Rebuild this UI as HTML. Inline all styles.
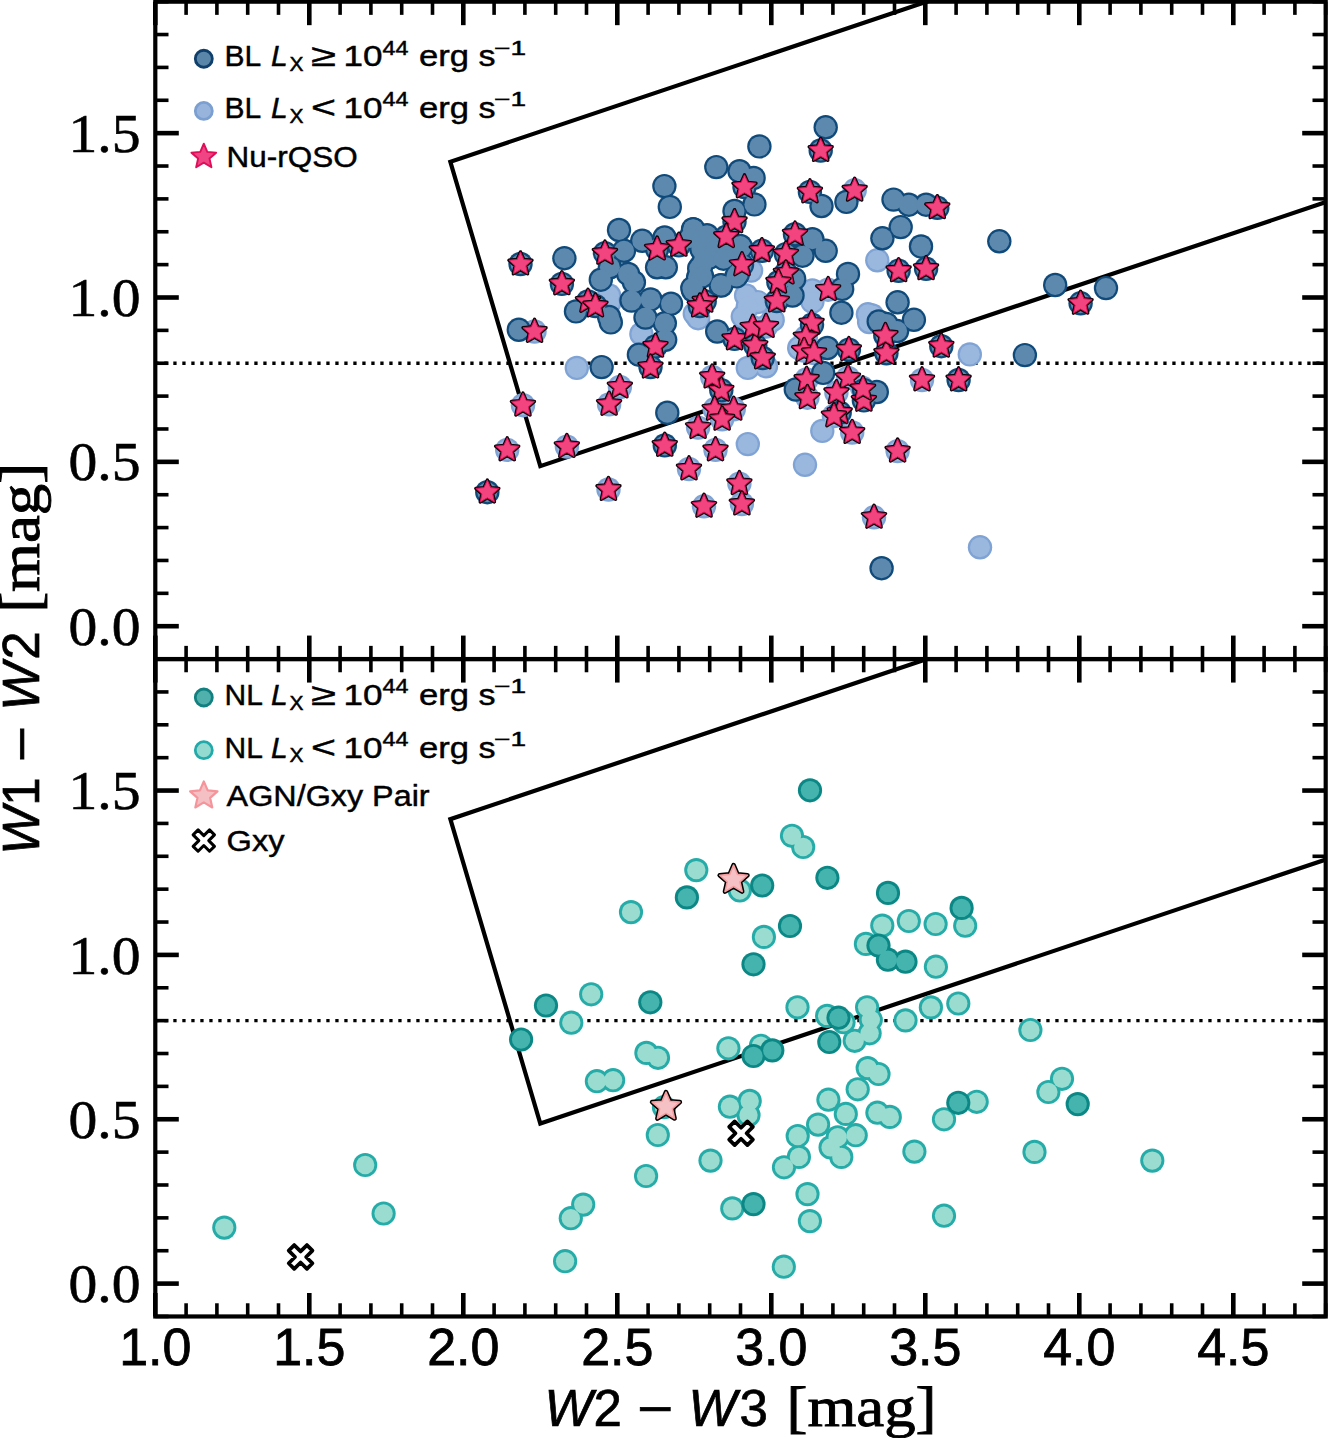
<!DOCTYPE html><html><head><meta charset="utf-8"><style>html,body{margin:0;padding:0;background:#fff;width:1328px;height:1438px;overflow:hidden}svg{display:block}</style></head><body>
<svg width="1328" height="1438" viewBox="0 0 1328 1438">
<rect width="1328" height="1438" fill="#fff"/>
<defs><clipPath id="ct"><rect x="155.3" y="1.6700000000000728" width="1170.3999999999999" height="657.4"/></clipPath><clipPath id="cb"><rect x="155.3" y="659.07" width="1170.3999999999999" height="657.3999999999997"/></clipPath></defs>
<g clip-path="url(#ct)"><path d="M1024.54,-31.20 L450.36,161.75 L540.30,466.12 L1356.50,191.82" fill="none" stroke="#000" stroke-width="4.2" stroke-linejoin="miter"/>
<line x1="155.3" y1="363.24" x2="1325.6999999999998" y2="363.24" stroke="#000" stroke-width="3.3" stroke-dasharray="3.3 5.7"/></g>
<g clip-path="url(#cb)"><path d="M1024.54,626.20 L450.36,819.15 L540.30,1123.52 L1356.50,849.22" fill="none" stroke="#000" stroke-width="4.2" stroke-linejoin="miter"/>
<line x1="155.3" y1="1020.64" x2="1325.6999999999998" y2="1020.64" stroke="#000" stroke-width="3.3" stroke-dasharray="3.3 5.7"/></g>
<g clip-path="url(#ct)"><g fill="#7fa3d4"><circle cx="609.1" cy="295.5" r="12.20"/><circle cx="746.1" cy="295.5" r="12.20"/><circle cx="757.7" cy="302.1" r="12.20"/><circle cx="812.4" cy="290.5" r="12.20"/><circle cx="877.3" cy="260.3" r="12.20"/><circle cx="751.1" cy="270.6" r="12.20"/><circle cx="867.9" cy="314.3" r="12.20"/><circle cx="694.8" cy="313.7" r="12.20"/><circle cx="854.7" cy="190.3" r="12.20"/><circle cx="828.1" cy="289.7" r="12.20"/><circle cx="872.2" cy="315.5" r="12.20"/><circle cx="969.8" cy="354.4" r="12.20"/><circle cx="885.4" cy="335.8" r="12.20"/><circle cx="641.4" cy="334.0" r="12.20"/><circle cx="576.8" cy="367.9" r="12.20"/><circle cx="609.1" cy="303.3" r="12.20"/><circle cx="534.5" cy="331.5" r="12.20"/><circle cx="523.0" cy="405.2" r="12.20"/><circle cx="507.2" cy="449.9" r="12.20"/><circle cx="566.9" cy="446.6" r="12.20"/><circle cx="608.5" cy="489.5" r="12.20"/><circle cx="619.9" cy="387.0" r="12.20"/><circle cx="609.1" cy="404.4" r="12.20"/><circle cx="698.1" cy="318.2" r="12.20"/><circle cx="747.8" cy="306.6" r="12.20"/><circle cx="742.8" cy="316.6" r="12.20"/><circle cx="747.8" cy="367.9" r="12.20"/><circle cx="772.7" cy="319.9" r="12.20"/><circle cx="766.0" cy="366.3" r="12.20"/><circle cx="747.8" cy="444.1" r="12.20"/><circle cx="805.0" cy="464.8" r="12.20"/><circle cx="822.3" cy="430.9" r="12.20"/><circle cx="799.2" cy="348.0" r="12.20"/><circle cx="812.4" cy="301.7" r="12.20"/><circle cx="752.8" cy="327.3" r="12.20"/><circle cx="766.0" cy="326.5" r="12.20"/><circle cx="805.8" cy="337.3" r="12.20"/><circle cx="804.1" cy="350.5" r="12.20"/><circle cx="814.1" cy="353.0" r="12.20"/><circle cx="712.2" cy="377.0" r="12.20"/><circle cx="714.7" cy="409.3" r="12.20"/><circle cx="733.7" cy="409.3" r="12.20"/><circle cx="722.1" cy="419.3" r="12.20"/><circle cx="698.1" cy="427.6" r="12.20"/><circle cx="715.5" cy="449.9" r="12.20"/><circle cx="689.0" cy="469.0" r="12.20"/><circle cx="739.4" cy="483.7" r="12.20"/><circle cx="741.9" cy="504.0" r="12.20"/><circle cx="704.0" cy="506.3" r="12.20"/><circle cx="806.6" cy="379.5" r="12.20"/><circle cx="807.4" cy="397.7" r="12.20"/><circle cx="848.0" cy="377.9" r="12.20"/><circle cx="836.4" cy="392.8" r="12.20"/><circle cx="862.1" cy="387.8" r="12.20"/><circle cx="833.9" cy="416.0" r="12.20"/><circle cx="852.2" cy="432.5" r="12.20"/><circle cx="874.0" cy="517.3" r="12.20"/><circle cx="980.0" cy="547.3" r="12.20"/><circle cx="869.1" cy="322.0" r="12.20"/><circle cx="922.0" cy="380.0" r="12.20"/><circle cx="897.6" cy="451.1" r="12.20"/></g><g fill="#9ab7de"><circle cx="609.1" cy="295.5" r="10.00"/><circle cx="746.1" cy="295.5" r="10.00"/><circle cx="757.7" cy="302.1" r="10.00"/><circle cx="812.4" cy="290.5" r="10.00"/><circle cx="877.3" cy="260.3" r="10.00"/><circle cx="751.1" cy="270.6" r="10.00"/><circle cx="867.9" cy="314.3" r="10.00"/><circle cx="694.8" cy="313.7" r="10.00"/><circle cx="854.7" cy="190.3" r="10.00"/><circle cx="828.1" cy="289.7" r="10.00"/><circle cx="872.2" cy="315.5" r="10.00"/><circle cx="969.8" cy="354.4" r="10.00"/><circle cx="885.4" cy="335.8" r="10.00"/><circle cx="641.4" cy="334.0" r="10.00"/><circle cx="576.8" cy="367.9" r="10.00"/><circle cx="609.1" cy="303.3" r="10.00"/><circle cx="534.5" cy="331.5" r="10.00"/><circle cx="523.0" cy="405.2" r="10.00"/><circle cx="507.2" cy="449.9" r="10.00"/><circle cx="566.9" cy="446.6" r="10.00"/><circle cx="608.5" cy="489.5" r="10.00"/><circle cx="619.9" cy="387.0" r="10.00"/><circle cx="609.1" cy="404.4" r="10.00"/><circle cx="698.1" cy="318.2" r="10.00"/><circle cx="747.8" cy="306.6" r="10.00"/><circle cx="742.8" cy="316.6" r="10.00"/><circle cx="747.8" cy="367.9" r="10.00"/><circle cx="772.7" cy="319.9" r="10.00"/><circle cx="766.0" cy="366.3" r="10.00"/><circle cx="747.8" cy="444.1" r="10.00"/><circle cx="805.0" cy="464.8" r="10.00"/><circle cx="822.3" cy="430.9" r="10.00"/><circle cx="799.2" cy="348.0" r="10.00"/><circle cx="812.4" cy="301.7" r="10.00"/><circle cx="752.8" cy="327.3" r="10.00"/><circle cx="766.0" cy="326.5" r="10.00"/><circle cx="805.8" cy="337.3" r="10.00"/><circle cx="804.1" cy="350.5" r="10.00"/><circle cx="814.1" cy="353.0" r="10.00"/><circle cx="712.2" cy="377.0" r="10.00"/><circle cx="714.7" cy="409.3" r="10.00"/><circle cx="733.7" cy="409.3" r="10.00"/><circle cx="722.1" cy="419.3" r="10.00"/><circle cx="698.1" cy="427.6" r="10.00"/><circle cx="715.5" cy="449.9" r="10.00"/><circle cx="689.0" cy="469.0" r="10.00"/><circle cx="739.4" cy="483.7" r="10.00"/><circle cx="741.9" cy="504.0" r="10.00"/><circle cx="704.0" cy="506.3" r="10.00"/><circle cx="806.6" cy="379.5" r="10.00"/><circle cx="807.4" cy="397.7" r="10.00"/><circle cx="848.0" cy="377.9" r="10.00"/><circle cx="836.4" cy="392.8" r="10.00"/><circle cx="862.1" cy="387.8" r="10.00"/><circle cx="833.9" cy="416.0" r="10.00"/><circle cx="852.2" cy="432.5" r="10.00"/><circle cx="874.0" cy="517.3" r="10.00"/><circle cx="980.0" cy="547.3" r="10.00"/><circle cx="869.1" cy="322.0" r="10.00"/><circle cx="922.0" cy="380.0" r="10.00"/><circle cx="897.6" cy="451.1" r="10.00"/></g><g fill="#0f4a7a"><circle cx="664.4" cy="186.1" r="12.20"/><circle cx="669.8" cy="206.9" r="12.20"/><circle cx="619.0" cy="230.0" r="12.20"/><circle cx="642.2" cy="240.8" r="12.20"/><circle cx="664.6" cy="237.5" r="12.20"/><circle cx="564.4" cy="258.2" r="12.20"/><circle cx="624.0" cy="250.8" r="12.20"/><circle cx="657.1" cy="267.3" r="12.20"/><circle cx="609.9" cy="267.3" r="12.20"/><circle cx="600.8" cy="279.7" r="12.20"/><circle cx="628.1" cy="273.9" r="12.20"/><circle cx="633.9" cy="282.2" r="12.20"/><circle cx="631.5" cy="300.6" r="12.20"/><circle cx="650.5" cy="299.4" r="12.20"/><circle cx="671.0" cy="303.7" r="12.20"/><circle cx="576.0" cy="311.4" r="12.20"/><circle cx="609.1" cy="317.0" r="12.20"/><circle cx="645.5" cy="317.6" r="12.20"/><circle cx="520.5" cy="264.0" r="12.20"/><circle cx="561.9" cy="283.9" r="12.20"/><circle cx="588.0" cy="301.5" r="12.20"/><circle cx="595.4" cy="306.0" r="12.20"/><circle cx="605.0" cy="253.2" r="12.20"/><circle cx="657.1" cy="249.1" r="12.20"/><circle cx="678.9" cy="245.4" r="12.20"/><circle cx="825.7" cy="127.3" r="12.20"/><circle cx="759.4" cy="146.4" r="12.20"/><circle cx="716.3" cy="167.1" r="12.20"/><circle cx="739.5" cy="171.2" r="12.20"/><circle cx="753.6" cy="177.9" r="12.20"/><circle cx="754.4" cy="204.4" r="12.20"/><circle cx="734.5" cy="211.0" r="12.20"/><circle cx="821.5" cy="206.0" r="12.20"/><circle cx="846.4" cy="201.9" r="12.20"/><circle cx="665.8" cy="267.3" r="12.20"/><circle cx="693.1" cy="229.2" r="12.20"/><circle cx="708.0" cy="237.5" r="12.20"/><circle cx="701.4" cy="265.7" r="12.20"/><circle cx="741.2" cy="247.4" r="12.20"/><circle cx="737.9" cy="273.9" r="12.20"/><circle cx="721.3" cy="285.5" r="12.20"/><circle cx="693.1" cy="290.5" r="12.20"/><circle cx="812.4" cy="239.2" r="12.20"/><circle cx="825.7" cy="250.8" r="12.20"/><circle cx="802.5" cy="255.7" r="12.20"/><circle cx="794.2" cy="278.9" r="12.20"/><circle cx="792.5" cy="295.5" r="12.20"/><circle cx="848.0" cy="273.9" r="12.20"/><circle cx="842.2" cy="288.9" r="12.20"/><circle cx="841.4" cy="312.7" r="12.20"/><circle cx="701.4" cy="249.1" r="12.20"/><circle cx="709.7" cy="257.4" r="12.20"/><circle cx="698.1" cy="277.3" r="12.20"/><circle cx="820.7" cy="150.5" r="12.20"/><circle cx="744.5" cy="187.0" r="12.20"/><circle cx="809.9" cy="191.9" r="12.20"/><circle cx="734.5" cy="221.8" r="12.20"/><circle cx="726.3" cy="236.7" r="12.20"/><circle cx="761.9" cy="250.8" r="12.20"/><circle cx="742.0" cy="264.8" r="12.20"/><circle cx="795.0" cy="234.2" r="12.20"/><circle cx="785.9" cy="254.1" r="12.20"/><circle cx="785.9" cy="273.1" r="12.20"/><circle cx="778.4" cy="282.2" r="12.20"/><circle cx="776.8" cy="301.1" r="12.20"/><circle cx="704.7" cy="301.3" r="12.20"/><circle cx="699.8" cy="306.0" r="12.20"/><circle cx="893.5" cy="199.6" r="12.20"/><circle cx="908.8" cy="204.7" r="12.20"/><circle cx="926.1" cy="204.7" r="12.20"/><circle cx="900.7" cy="227.1" r="12.20"/><circle cx="882.4" cy="238.3" r="12.20"/><circle cx="921.0" cy="246.4" r="12.20"/><circle cx="999.3" cy="241.3" r="12.20"/><circle cx="897.6" cy="302.3" r="12.20"/><circle cx="913.9" cy="319.8" r="12.20"/><circle cx="886.4" cy="323.9" r="12.20"/><circle cx="897.1" cy="331.0" r="12.20"/><circle cx="1055.2" cy="285.0" r="12.20"/><circle cx="1106.0" cy="288.1" r="12.20"/><circle cx="1024.9" cy="355.1" r="12.20"/><circle cx="937.3" cy="207.8" r="12.20"/><circle cx="898.6" cy="270.8" r="12.20"/><circle cx="926.1" cy="268.8" r="12.20"/><circle cx="886.4" cy="353.3" r="12.20"/><circle cx="941.3" cy="346.2" r="12.20"/><circle cx="1080.6" cy="303.3" r="12.20"/><circle cx="518.8" cy="329.8" r="12.20"/><circle cx="610.8" cy="322.4" r="12.20"/><circle cx="664.8" cy="323.2" r="12.20"/><circle cx="665.2" cy="339.8" r="12.20"/><circle cx="638.9" cy="354.7" r="12.20"/><circle cx="601.6" cy="367.1" r="12.20"/><circle cx="667.3" cy="412.7" r="12.20"/><circle cx="487.3" cy="492.2" r="12.20"/><circle cx="655.5" cy="346.4" r="12.20"/><circle cx="650.5" cy="367.1" r="12.20"/><circle cx="664.8" cy="445.4" r="12.20"/><circle cx="717.2" cy="331.5" r="12.20"/><circle cx="823.2" cy="372.9" r="12.20"/><circle cx="827.3" cy="348.0" r="12.20"/><circle cx="795.8" cy="389.5" r="12.20"/><circle cx="876.8" cy="392.0" r="12.20"/><circle cx="812.0" cy="324.8" r="12.20"/><circle cx="878.7" cy="321.5" r="12.20"/><circle cx="734.5" cy="338.9" r="12.20"/><circle cx="755.3" cy="345.6" r="12.20"/><circle cx="762.7" cy="358.0" r="12.20"/><circle cx="848.9" cy="349.7" r="12.20"/><circle cx="721.3" cy="390.3" r="12.20"/><circle cx="863.9" cy="400.4" r="12.20"/><circle cx="839.7" cy="412.7" r="12.20"/><circle cx="881.6" cy="568.2" r="12.20"/><circle cx="958.6" cy="380.0" r="12.20"/><circle cx="864.1" cy="390.1" r="12.20"/><circle cx="885.4" cy="335.2" r="12.20"/><circle cx="693.3" cy="229.4" r="12.20"/><circle cx="707.0" cy="235.2" r="12.20"/><circle cx="702.1" cy="247.0" r="12.20"/><circle cx="714.8" cy="250.9" r="12.20"/><circle cx="704.0" cy="260.7" r="12.20"/><circle cx="699.2" cy="268.5" r="12.20"/><circle cx="723.6" cy="258.7" r="12.20"/><circle cx="736.4" cy="250.9" r="12.20"/><circle cx="740.3" cy="246.0" r="12.20"/><circle cx="702.1" cy="276.4" r="12.20"/><circle cx="692.3" cy="288.1" r="12.20"/><circle cx="720.7" cy="285.2" r="12.20"/><circle cx="736.4" cy="276.4" r="12.20"/><circle cx="727.0" cy="240.0" r="12.20"/><circle cx="690.0" cy="238.0" r="12.20"/></g><g fill="#5e89ae"><circle cx="664.4" cy="186.1" r="10.00"/><circle cx="669.8" cy="206.9" r="10.00"/><circle cx="619.0" cy="230.0" r="10.00"/><circle cx="642.2" cy="240.8" r="10.00"/><circle cx="664.6" cy="237.5" r="10.00"/><circle cx="564.4" cy="258.2" r="10.00"/><circle cx="624.0" cy="250.8" r="10.00"/><circle cx="657.1" cy="267.3" r="10.00"/><circle cx="609.9" cy="267.3" r="10.00"/><circle cx="600.8" cy="279.7" r="10.00"/><circle cx="628.1" cy="273.9" r="10.00"/><circle cx="633.9" cy="282.2" r="10.00"/><circle cx="631.5" cy="300.6" r="10.00"/><circle cx="650.5" cy="299.4" r="10.00"/><circle cx="671.0" cy="303.7" r="10.00"/><circle cx="576.0" cy="311.4" r="10.00"/><circle cx="609.1" cy="317.0" r="10.00"/><circle cx="645.5" cy="317.6" r="10.00"/><circle cx="520.5" cy="264.0" r="10.00"/><circle cx="561.9" cy="283.9" r="10.00"/><circle cx="588.0" cy="301.5" r="10.00"/><circle cx="595.4" cy="306.0" r="10.00"/><circle cx="605.0" cy="253.2" r="10.00"/><circle cx="657.1" cy="249.1" r="10.00"/><circle cx="678.9" cy="245.4" r="10.00"/><circle cx="825.7" cy="127.3" r="10.00"/><circle cx="759.4" cy="146.4" r="10.00"/><circle cx="716.3" cy="167.1" r="10.00"/><circle cx="739.5" cy="171.2" r="10.00"/><circle cx="753.6" cy="177.9" r="10.00"/><circle cx="754.4" cy="204.4" r="10.00"/><circle cx="734.5" cy="211.0" r="10.00"/><circle cx="821.5" cy="206.0" r="10.00"/><circle cx="846.4" cy="201.9" r="10.00"/><circle cx="665.8" cy="267.3" r="10.00"/><circle cx="693.1" cy="229.2" r="10.00"/><circle cx="708.0" cy="237.5" r="10.00"/><circle cx="701.4" cy="265.7" r="10.00"/><circle cx="741.2" cy="247.4" r="10.00"/><circle cx="737.9" cy="273.9" r="10.00"/><circle cx="721.3" cy="285.5" r="10.00"/><circle cx="693.1" cy="290.5" r="10.00"/><circle cx="812.4" cy="239.2" r="10.00"/><circle cx="825.7" cy="250.8" r="10.00"/><circle cx="802.5" cy="255.7" r="10.00"/><circle cx="794.2" cy="278.9" r="10.00"/><circle cx="792.5" cy="295.5" r="10.00"/><circle cx="848.0" cy="273.9" r="10.00"/><circle cx="842.2" cy="288.9" r="10.00"/><circle cx="841.4" cy="312.7" r="10.00"/><circle cx="701.4" cy="249.1" r="10.00"/><circle cx="709.7" cy="257.4" r="10.00"/><circle cx="698.1" cy="277.3" r="10.00"/><circle cx="820.7" cy="150.5" r="10.00"/><circle cx="744.5" cy="187.0" r="10.00"/><circle cx="809.9" cy="191.9" r="10.00"/><circle cx="734.5" cy="221.8" r="10.00"/><circle cx="726.3" cy="236.7" r="10.00"/><circle cx="761.9" cy="250.8" r="10.00"/><circle cx="742.0" cy="264.8" r="10.00"/><circle cx="795.0" cy="234.2" r="10.00"/><circle cx="785.9" cy="254.1" r="10.00"/><circle cx="785.9" cy="273.1" r="10.00"/><circle cx="778.4" cy="282.2" r="10.00"/><circle cx="776.8" cy="301.1" r="10.00"/><circle cx="704.7" cy="301.3" r="10.00"/><circle cx="699.8" cy="306.0" r="10.00"/><circle cx="893.5" cy="199.6" r="10.00"/><circle cx="908.8" cy="204.7" r="10.00"/><circle cx="926.1" cy="204.7" r="10.00"/><circle cx="900.7" cy="227.1" r="10.00"/><circle cx="882.4" cy="238.3" r="10.00"/><circle cx="921.0" cy="246.4" r="10.00"/><circle cx="999.3" cy="241.3" r="10.00"/><circle cx="897.6" cy="302.3" r="10.00"/><circle cx="913.9" cy="319.8" r="10.00"/><circle cx="886.4" cy="323.9" r="10.00"/><circle cx="897.1" cy="331.0" r="10.00"/><circle cx="1055.2" cy="285.0" r="10.00"/><circle cx="1106.0" cy="288.1" r="10.00"/><circle cx="1024.9" cy="355.1" r="10.00"/><circle cx="937.3" cy="207.8" r="10.00"/><circle cx="898.6" cy="270.8" r="10.00"/><circle cx="926.1" cy="268.8" r="10.00"/><circle cx="886.4" cy="353.3" r="10.00"/><circle cx="941.3" cy="346.2" r="10.00"/><circle cx="1080.6" cy="303.3" r="10.00"/><circle cx="518.8" cy="329.8" r="10.00"/><circle cx="610.8" cy="322.4" r="10.00"/><circle cx="664.8" cy="323.2" r="10.00"/><circle cx="665.2" cy="339.8" r="10.00"/><circle cx="638.9" cy="354.7" r="10.00"/><circle cx="601.6" cy="367.1" r="10.00"/><circle cx="667.3" cy="412.7" r="10.00"/><circle cx="487.3" cy="492.2" r="10.00"/><circle cx="655.5" cy="346.4" r="10.00"/><circle cx="650.5" cy="367.1" r="10.00"/><circle cx="664.8" cy="445.4" r="10.00"/><circle cx="717.2" cy="331.5" r="10.00"/><circle cx="823.2" cy="372.9" r="10.00"/><circle cx="827.3" cy="348.0" r="10.00"/><circle cx="795.8" cy="389.5" r="10.00"/><circle cx="876.8" cy="392.0" r="10.00"/><circle cx="812.0" cy="324.8" r="10.00"/><circle cx="878.7" cy="321.5" r="10.00"/><circle cx="734.5" cy="338.9" r="10.00"/><circle cx="755.3" cy="345.6" r="10.00"/><circle cx="762.7" cy="358.0" r="10.00"/><circle cx="848.9" cy="349.7" r="10.00"/><circle cx="721.3" cy="390.3" r="10.00"/><circle cx="863.9" cy="400.4" r="10.00"/><circle cx="839.7" cy="412.7" r="10.00"/><circle cx="881.6" cy="568.2" r="10.00"/><circle cx="958.6" cy="380.0" r="10.00"/><circle cx="864.1" cy="390.1" r="10.00"/><circle cx="885.4" cy="335.2" r="10.00"/><circle cx="693.3" cy="229.4" r="10.00"/><circle cx="707.0" cy="235.2" r="10.00"/><circle cx="702.1" cy="247.0" r="10.00"/><circle cx="714.8" cy="250.9" r="10.00"/><circle cx="704.0" cy="260.7" r="10.00"/><circle cx="699.2" cy="268.5" r="10.00"/><circle cx="723.6" cy="258.7" r="10.00"/><circle cx="736.4" cy="250.9" r="10.00"/><circle cx="740.3" cy="246.0" r="10.00"/><circle cx="702.1" cy="276.4" r="10.00"/><circle cx="692.3" cy="288.1" r="10.00"/><circle cx="720.7" cy="285.2" r="10.00"/><circle cx="736.4" cy="276.4" r="10.00"/><circle cx="727.0" cy="240.0" r="10.00"/><circle cx="690.0" cy="238.0" r="10.00"/></g><path d="M520.47,251.91 L523.81,259.41 L531.97,260.27 L525.88,265.76 L527.58,273.80 L520.47,269.69 L513.35,273.80 L515.06,265.76 L508.96,260.27 L517.12,259.41Z" fill="#f2447f" stroke="#14040c" stroke-width="3.4" stroke-linejoin="round"/><path d="M520.47,251.91 L523.81,259.41 L531.97,260.27 L525.88,265.76 L527.58,273.80 L520.47,269.69 L513.35,273.80 L515.06,265.76 L508.96,260.27 L517.12,259.41Z" fill="#f2447f" stroke="#e0125a" stroke-width="1.0" stroke-linejoin="round"/><path d="M561.88,271.79 L565.23,279.28 L573.39,280.15 L567.29,285.64 L568.99,293.67 L561.88,289.57 L554.77,293.67 L556.47,285.64 L550.37,280.15 L558.54,279.28Z" fill="#f2447f" stroke="#14040c" stroke-width="3.4" stroke-linejoin="round"/><path d="M561.88,271.79 L565.23,279.28 L573.39,280.15 L567.29,285.64 L568.99,293.67 L561.88,289.57 L554.77,293.67 L556.47,285.64 L550.37,280.15 L558.54,279.28Z" fill="#f2447f" stroke="#e0125a" stroke-width="1.0" stroke-linejoin="round"/><path d="M587.97,289.37 L591.32,296.87 L599.48,297.73 L593.38,303.23 L595.09,311.26 L587.97,307.16 L580.86,311.26 L582.57,303.23 L576.47,297.73 L584.63,296.87Z" fill="#f2447f" stroke="#14040c" stroke-width="3.4" stroke-linejoin="round"/><path d="M587.97,289.37 L591.32,296.87 L599.48,297.73 L593.38,303.23 L595.09,311.26 L587.97,307.16 L580.86,311.26 L582.57,303.23 L576.47,297.73 L584.63,296.87Z" fill="#f2447f" stroke="#e0125a" stroke-width="1.0" stroke-linejoin="round"/><path d="M595.43,293.92 L598.77,301.42 L606.94,302.28 L600.84,307.78 L602.54,315.81 L595.43,311.71 L588.32,315.81 L590.02,307.78 L583.92,302.28 L592.09,301.42Z" fill="#f2447f" stroke="#14040c" stroke-width="3.4" stroke-linejoin="round"/><path d="M595.43,293.92 L598.77,301.42 L606.94,302.28 L600.84,307.78 L602.54,315.81 L595.43,311.71 L588.32,315.81 L590.02,307.78 L583.92,302.28 L592.09,301.42Z" fill="#f2447f" stroke="#e0125a" stroke-width="1.0" stroke-linejoin="round"/><path d="M604.95,241.14 L608.30,248.64 L616.46,249.50 L610.36,255.00 L612.07,263.03 L604.95,258.92 L597.84,263.03 L599.55,255.00 L593.45,249.50 L601.61,248.64Z" fill="#f2447f" stroke="#14040c" stroke-width="3.4" stroke-linejoin="round"/><path d="M604.95,241.14 L608.30,248.64 L616.46,249.50 L610.36,255.00 L612.07,263.03 L604.95,258.92 L597.84,263.03 L599.55,255.00 L593.45,249.50 L601.61,248.64Z" fill="#f2447f" stroke="#e0125a" stroke-width="1.0" stroke-linejoin="round"/><path d="M657.14,237.00 L660.48,244.50 L668.65,245.36 L662.55,250.85 L664.25,258.89 L657.14,254.78 L650.03,258.89 L651.73,250.85 L645.63,245.36 L653.80,244.50Z" fill="#f2447f" stroke="#14040c" stroke-width="3.4" stroke-linejoin="round"/><path d="M657.14,237.00 L660.48,244.50 L668.65,245.36 L662.55,250.85 L664.25,258.89 L657.14,254.78 L650.03,258.89 L651.73,250.85 L645.63,245.36 L653.80,244.50Z" fill="#f2447f" stroke="#e0125a" stroke-width="1.0" stroke-linejoin="round"/><path d="M678.86,233.27 L682.21,240.77 L690.37,241.63 L684.27,247.13 L685.98,255.16 L678.86,251.06 L671.75,255.16 L673.45,247.13 L667.36,241.63 L675.52,240.77Z" fill="#f2447f" stroke="#14040c" stroke-width="3.4" stroke-linejoin="round"/><path d="M678.86,233.27 L682.21,240.77 L690.37,241.63 L684.27,247.13 L685.98,255.16 L678.86,251.06 L671.75,255.16 L673.45,247.13 L667.36,241.63 L675.52,240.77Z" fill="#f2447f" stroke="#e0125a" stroke-width="1.0" stroke-linejoin="round"/><path d="M820.69,138.43 L824.04,145.93 L832.20,146.79 L826.10,152.28 L827.80,160.32 L820.69,156.21 L813.58,160.32 L815.28,152.28 L809.18,146.79 L817.35,145.93Z" fill="#f2447f" stroke="#14040c" stroke-width="3.4" stroke-linejoin="round"/><path d="M820.69,138.43 L824.04,145.93 L832.20,146.79 L826.10,152.28 L827.80,160.32 L820.69,156.21 L813.58,160.32 L815.28,152.28 L809.18,146.79 L817.35,145.93Z" fill="#f2447f" stroke="#e0125a" stroke-width="1.0" stroke-linejoin="round"/><path d="M744.49,174.87 L747.83,182.37 L756.00,183.23 L749.90,188.73 L751.60,196.76 L744.49,192.66 L737.38,196.76 L739.08,188.73 L732.98,183.23 L741.15,182.37Z" fill="#f2447f" stroke="#14040c" stroke-width="3.4" stroke-linejoin="round"/><path d="M744.49,174.87 L747.83,182.37 L756.00,183.23 L749.90,188.73 L751.60,196.76 L744.49,192.66 L737.38,196.76 L739.08,188.73 L732.98,183.23 L741.15,182.37Z" fill="#f2447f" stroke="#e0125a" stroke-width="1.0" stroke-linejoin="round"/><path d="M809.92,179.84 L813.27,187.34 L821.43,188.20 L815.33,193.70 L817.04,201.73 L809.92,197.63 L802.81,201.73 L804.52,193.70 L798.42,188.20 L806.58,187.34Z" fill="#f2447f" stroke="#14040c" stroke-width="3.4" stroke-linejoin="round"/><path d="M809.92,179.84 L813.27,187.34 L821.43,188.20 L815.33,193.70 L817.04,201.73 L809.92,197.63 L802.81,201.73 L804.52,193.70 L798.42,188.20 L806.58,187.34Z" fill="#f2447f" stroke="#e0125a" stroke-width="1.0" stroke-linejoin="round"/><path d="M734.55,209.66 L737.89,217.16 L746.06,218.02 L739.96,223.52 L741.66,231.55 L734.55,227.45 L727.44,231.55 L729.14,223.52 L723.04,218.02 L731.21,217.16Z" fill="#f2447f" stroke="#14040c" stroke-width="3.4" stroke-linejoin="round"/><path d="M734.55,209.66 L737.89,217.16 L746.06,218.02 L739.96,223.52 L741.66,231.55 L734.55,227.45 L727.44,231.55 L729.14,223.52 L723.04,218.02 L731.21,217.16Z" fill="#f2447f" stroke="#e0125a" stroke-width="1.0" stroke-linejoin="round"/><path d="M726.27,224.57 L729.61,232.07 L737.77,232.93 L731.67,238.43 L733.38,246.46 L726.27,242.36 L719.15,246.46 L720.86,238.43 L714.76,232.93 L722.92,232.07Z" fill="#f2447f" stroke="#14040c" stroke-width="3.4" stroke-linejoin="round"/><path d="M726.27,224.57 L729.61,232.07 L737.77,232.93 L731.67,238.43 L733.38,246.46 L726.27,242.36 L719.15,246.46 L720.86,238.43 L714.76,232.93 L722.92,232.07Z" fill="#f2447f" stroke="#e0125a" stroke-width="1.0" stroke-linejoin="round"/><path d="M761.88,238.65 L765.23,246.15 L773.39,247.01 L767.29,252.51 L768.99,260.54 L761.88,256.44 L754.77,260.54 L756.47,252.51 L750.37,247.01 L758.54,246.15Z" fill="#f2447f" stroke="#14040c" stroke-width="3.4" stroke-linejoin="round"/><path d="M761.88,238.65 L765.23,246.15 L773.39,247.01 L767.29,252.51 L768.99,260.54 L761.88,256.44 L754.77,260.54 L756.47,252.51 L750.37,247.01 L758.54,246.15Z" fill="#f2447f" stroke="#e0125a" stroke-width="1.0" stroke-linejoin="round"/><path d="M742.00,252.73 L745.35,260.23 L753.51,261.10 L747.41,266.59 L749.12,274.62 L742.00,270.52 L734.89,274.62 L736.59,266.59 L730.50,261.10 L738.66,260.23Z" fill="#f2447f" stroke="#14040c" stroke-width="3.4" stroke-linejoin="round"/><path d="M742.00,252.73 L745.35,260.23 L753.51,261.10 L747.41,266.59 L749.12,274.62 L742.00,270.52 L734.89,274.62 L736.59,266.59 L730.50,261.10 L738.66,260.23Z" fill="#f2447f" stroke="#e0125a" stroke-width="1.0" stroke-linejoin="round"/><path d="M795.02,222.09 L798.36,229.59 L806.52,230.45 L800.42,235.94 L802.13,243.98 L795.02,239.87 L787.90,243.98 L789.61,235.94 L783.51,230.45 L791.67,229.59Z" fill="#f2447f" stroke="#14040c" stroke-width="3.4" stroke-linejoin="round"/><path d="M795.02,222.09 L798.36,229.59 L806.52,230.45 L800.42,235.94 L802.13,243.98 L795.02,239.87 L787.90,243.98 L789.61,235.94 L783.51,230.45 L791.67,229.59Z" fill="#f2447f" stroke="#e0125a" stroke-width="1.0" stroke-linejoin="round"/><path d="M785.90,241.97 L789.25,249.47 L797.41,250.33 L791.31,255.82 L793.02,263.86 L785.90,259.75 L778.79,263.86 L780.49,255.82 L774.40,250.33 L782.56,249.47Z" fill="#f2447f" stroke="#14040c" stroke-width="3.4" stroke-linejoin="round"/><path d="M785.90,241.97 L789.25,249.47 L797.41,250.33 L791.31,255.82 L793.02,263.86 L785.90,259.75 L778.79,263.86 L780.49,255.82 L774.40,250.33 L782.56,249.47Z" fill="#f2447f" stroke="#e0125a" stroke-width="1.0" stroke-linejoin="round"/><path d="M785.90,261.02 L789.25,268.52 L797.41,269.38 L791.31,274.87 L793.02,282.91 L785.90,278.80 L778.79,282.91 L780.49,274.87 L774.40,269.38 L782.56,268.52Z" fill="#f2447f" stroke="#14040c" stroke-width="3.4" stroke-linejoin="round"/><path d="M785.90,261.02 L789.25,268.52 L797.41,269.38 L791.31,274.87 L793.02,282.91 L785.90,278.80 L778.79,282.91 L780.49,274.87 L774.40,269.38 L782.56,268.52Z" fill="#f2447f" stroke="#e0125a" stroke-width="1.0" stroke-linejoin="round"/><path d="M778.45,270.13 L781.79,277.63 L789.96,278.49 L783.86,283.99 L785.56,292.02 L778.45,287.92 L771.34,292.02 L773.04,283.99 L766.94,278.49 L775.11,277.63Z" fill="#f2447f" stroke="#14040c" stroke-width="3.4" stroke-linejoin="round"/><path d="M778.45,270.13 L781.79,277.63 L789.96,278.49 L783.86,283.99 L785.56,292.02 L778.45,287.92 L771.34,292.02 L773.04,283.99 L766.94,278.49 L775.11,277.63Z" fill="#f2447f" stroke="#e0125a" stroke-width="1.0" stroke-linejoin="round"/><path d="M776.79,288.95 L780.13,296.45 L788.30,297.32 L782.20,302.81 L783.90,310.84 L776.79,306.74 L769.68,310.84 L771.38,302.81 L765.28,297.32 L773.45,296.45Z" fill="#f2447f" stroke="#14040c" stroke-width="3.4" stroke-linejoin="round"/><path d="M776.79,288.95 L780.13,296.45 L788.30,297.32 L782.20,302.81 L783.90,310.84 L776.79,306.74 L769.68,310.84 L771.38,302.81 L765.28,297.32 L773.45,296.45Z" fill="#f2447f" stroke="#e0125a" stroke-width="1.0" stroke-linejoin="round"/><path d="M704.73,289.18 L708.07,296.68 L716.24,297.54 L710.14,303.04 L711.84,311.07 L704.73,306.97 L697.62,311.07 L699.32,303.04 L693.22,297.54 L701.39,296.68Z" fill="#f2447f" stroke="#14040c" stroke-width="3.4" stroke-linejoin="round"/><path d="M704.73,289.18 L708.07,296.68 L716.24,297.54 L710.14,303.04 L711.84,311.07 L704.73,306.97 L697.62,311.07 L699.32,303.04 L693.22,297.54 L701.39,296.68Z" fill="#f2447f" stroke="#e0125a" stroke-width="1.0" stroke-linejoin="round"/><path d="M699.76,293.92 L703.10,301.42 L711.27,302.28 L705.17,307.78 L706.87,315.81 L699.76,311.71 L692.65,315.81 L694.35,307.78 L688.25,302.28 L696.42,301.42Z" fill="#f2447f" stroke="#14040c" stroke-width="3.4" stroke-linejoin="round"/><path d="M699.76,293.92 L703.10,301.42 L711.27,302.28 L705.17,307.78 L706.87,315.81 L699.76,311.71 L692.65,315.81 L694.35,307.78 L688.25,302.28 L696.42,301.42Z" fill="#f2447f" stroke="#e0125a" stroke-width="1.0" stroke-linejoin="round"/><path d="M854.65,178.19 L858.00,185.69 L866.16,186.55 L860.06,192.04 L861.77,200.08 L854.65,195.97 L847.54,200.08 L849.24,192.04 L843.15,186.55 L851.31,185.69Z" fill="#f2447f" stroke="#14040c" stroke-width="3.4" stroke-linejoin="round"/><path d="M854.65,178.19 L858.00,185.69 L866.16,186.55 L860.06,192.04 L861.77,200.08 L854.65,195.97 L847.54,200.08 L849.24,192.04 L843.15,186.55 L851.31,185.69Z" fill="#f2447f" stroke="#e0125a" stroke-width="1.0" stroke-linejoin="round"/><path d="M828.15,277.58 L831.49,285.08 L839.66,285.94 L833.56,291.44 L835.26,299.47 L828.15,295.37 L821.04,299.47 L822.74,291.44 L816.64,285.94 L824.80,285.08Z" fill="#f2447f" stroke="#14040c" stroke-width="3.4" stroke-linejoin="round"/><path d="M828.15,277.58 L831.49,285.08 L839.66,285.94 L833.56,291.44 L835.26,299.47 L828.15,295.37 L821.04,299.47 L822.74,291.44 L816.64,285.94 L824.80,285.08Z" fill="#f2447f" stroke="#e0125a" stroke-width="1.0" stroke-linejoin="round"/><path d="M937.26,195.66 L940.60,203.16 L948.77,204.02 L942.67,209.51 L944.37,217.55 L937.26,213.44 L930.15,217.55 L931.85,209.51 L925.75,204.02 L933.92,203.16Z" fill="#f2447f" stroke="#14040c" stroke-width="3.4" stroke-linejoin="round"/><path d="M937.26,195.66 L940.60,203.16 L948.77,204.02 L942.67,209.51 L944.37,217.55 L937.26,213.44 L930.15,217.55 L931.85,209.51 L925.75,204.02 L933.92,203.16Z" fill="#f2447f" stroke="#e0125a" stroke-width="1.0" stroke-linejoin="round"/><path d="M898.63,258.68 L901.97,266.18 L910.14,267.04 L904.04,272.54 L905.74,280.57 L898.63,276.47 L891.52,280.57 L893.22,272.54 L887.12,267.04 L895.29,266.18Z" fill="#f2447f" stroke="#14040c" stroke-width="3.4" stroke-linejoin="round"/><path d="M898.63,258.68 L901.97,266.18 L910.14,267.04 L904.04,272.54 L905.74,280.57 L898.63,276.47 L891.52,280.57 L893.22,272.54 L887.12,267.04 L895.29,266.18Z" fill="#f2447f" stroke="#e0125a" stroke-width="1.0" stroke-linejoin="round"/><path d="M926.08,256.65 L929.42,264.15 L937.58,265.01 L931.49,270.51 L933.19,278.54 L926.08,274.44 L918.96,278.54 L920.67,270.51 L914.57,265.01 L922.73,264.15Z" fill="#f2447f" stroke="#14040c" stroke-width="3.4" stroke-linejoin="round"/><path d="M926.08,256.65 L929.42,264.15 L937.58,265.01 L931.49,270.51 L933.19,278.54 L926.08,274.44 L918.96,278.54 L920.67,270.51 L914.57,265.01 L922.73,264.15Z" fill="#f2447f" stroke="#e0125a" stroke-width="1.0" stroke-linejoin="round"/><path d="M886.43,341.24 L889.77,348.73 L897.94,349.60 L891.84,355.09 L893.54,363.12 L886.43,359.02 L879.32,363.12 L881.02,355.09 L874.92,349.60 L883.09,348.73Z" fill="#f2447f" stroke="#14040c" stroke-width="3.4" stroke-linejoin="round"/><path d="M886.43,341.24 L889.77,348.73 L897.94,349.60 L891.84,355.09 L893.54,363.12 L886.43,359.02 L879.32,363.12 L881.02,355.09 L874.92,349.60 L883.09,348.73Z" fill="#f2447f" stroke="#e0125a" stroke-width="1.0" stroke-linejoin="round"/><path d="M941.33,334.12 L944.67,341.62 L952.83,342.48 L946.73,347.98 L948.44,356.01 L941.33,351.91 L934.21,356.01 L935.92,347.98 L929.82,342.48 L937.98,341.62Z" fill="#f2447f" stroke="#14040c" stroke-width="3.4" stroke-linejoin="round"/><path d="M941.33,334.12 L944.67,341.62 L952.83,342.48 L946.73,347.98 L948.44,356.01 L941.33,351.91 L934.21,356.01 L935.92,347.98 L929.82,342.48 L937.98,341.62Z" fill="#f2447f" stroke="#e0125a" stroke-width="1.0" stroke-linejoin="round"/><path d="M1080.59,291.21 L1083.94,298.71 L1092.10,299.57 L1086.00,305.07 L1087.71,313.10 L1080.59,309.00 L1073.48,313.10 L1075.19,305.07 L1069.09,299.57 L1077.25,298.71Z" fill="#f2447f" stroke="#14040c" stroke-width="3.4" stroke-linejoin="round"/><path d="M1080.59,291.21 L1083.94,298.71 L1092.10,299.57 L1086.00,305.07 L1087.71,313.10 L1080.59,309.00 L1073.48,313.10 L1075.19,305.07 L1069.09,299.57 L1077.25,298.71Z" fill="#f2447f" stroke="#e0125a" stroke-width="1.0" stroke-linejoin="round"/><path d="M885.41,323.45 L888.76,330.95 L896.92,331.81 L890.82,337.30 L892.53,345.34 L885.41,341.23 L878.30,345.34 L880.01,337.30 L873.91,331.81 L882.07,330.95Z" fill="#f2447f" stroke="#14040c" stroke-width="3.4" stroke-linejoin="round"/><path d="M885.41,323.45 L888.76,330.95 L896.92,331.81 L890.82,337.30 L892.53,345.34 L885.41,341.23 L878.30,345.34 L880.01,337.30 L873.91,331.81 L882.07,330.95Z" fill="#f2447f" stroke="#e0125a" stroke-width="1.0" stroke-linejoin="round"/><path d="M487.33,480.07 L490.68,487.57 L498.84,488.43 L492.74,493.93 L494.45,501.96 L487.33,497.86 L480.22,501.96 L481.93,493.93 L475.83,488.43 L483.99,487.57Z" fill="#f2447f" stroke="#14040c" stroke-width="3.4" stroke-linejoin="round"/><path d="M487.33,480.07 L490.68,487.57 L498.84,488.43 L492.74,493.93 L494.45,501.96 L487.33,497.86 L480.22,501.96 L481.93,493.93 L475.83,488.43 L483.99,487.57Z" fill="#f2447f" stroke="#e0125a" stroke-width="1.0" stroke-linejoin="round"/><path d="M655.48,334.29 L658.82,341.78 L666.99,342.65 L660.89,348.14 L662.59,356.17 L655.48,352.07 L648.37,356.17 L650.07,348.14 L643.97,342.65 L652.14,341.78Z" fill="#f2447f" stroke="#14040c" stroke-width="3.4" stroke-linejoin="round"/><path d="M655.48,334.29 L658.82,341.78 L666.99,342.65 L660.89,348.14 L662.59,356.17 L655.48,352.07 L648.37,356.17 L650.07,348.14 L643.97,342.65 L652.14,341.78Z" fill="#f2447f" stroke="#e0125a" stroke-width="1.0" stroke-linejoin="round"/><path d="M650.51,354.99 L653.85,362.49 L662.02,363.35 L655.92,368.85 L657.62,376.88 L650.51,372.78 L643.40,376.88 L645.10,368.85 L639.00,363.35 L647.17,362.49Z" fill="#f2447f" stroke="#14040c" stroke-width="3.4" stroke-linejoin="round"/><path d="M650.51,354.99 L653.85,362.49 L662.02,363.35 L655.92,368.85 L657.62,376.88 L650.51,372.78 L643.40,376.88 L645.10,368.85 L639.00,363.35 L647.17,362.49Z" fill="#f2447f" stroke="#e0125a" stroke-width="1.0" stroke-linejoin="round"/><path d="M664.78,433.27 L668.12,440.77 L676.29,441.63 L670.19,447.13 L671.89,455.16 L664.78,451.06 L657.67,455.16 L659.37,447.13 L653.27,441.63 L661.44,440.77Z" fill="#f2447f" stroke="#14040c" stroke-width="3.4" stroke-linejoin="round"/><path d="M664.78,433.27 L668.12,440.77 L676.29,441.63 L670.19,447.13 L671.89,455.16 L664.78,451.06 L657.67,455.16 L659.37,447.13 L653.27,441.63 L661.44,440.77Z" fill="#f2447f" stroke="#e0125a" stroke-width="1.0" stroke-linejoin="round"/><path d="M534.55,319.38 L537.89,326.88 L546.06,327.74 L539.96,333.23 L541.66,341.27 L534.55,337.16 L527.44,341.27 L529.14,333.23 L523.04,327.74 L531.21,326.88Z" fill="#f2447f" stroke="#14040c" stroke-width="3.4" stroke-linejoin="round"/><path d="M534.55,319.38 L537.89,326.88 L546.06,327.74 L539.96,333.23 L541.66,341.27 L534.55,337.16 L527.44,341.27 L529.14,333.23 L523.04,327.74 L531.21,326.88Z" fill="#f2447f" stroke="#e0125a" stroke-width="1.0" stroke-linejoin="round"/><path d="M522.95,393.10 L526.29,400.59 L534.46,401.46 L528.36,406.95 L530.06,414.98 L522.95,410.88 L515.84,414.98 L517.54,406.95 L511.44,401.46 L519.61,400.59Z" fill="#f2447f" stroke="#14040c" stroke-width="3.4" stroke-linejoin="round"/><path d="M522.95,393.10 L526.29,400.59 L534.46,401.46 L528.36,406.95 L530.06,414.98 L522.95,410.88 L515.84,414.98 L517.54,406.95 L511.44,401.46 L519.61,400.59Z" fill="#f2447f" stroke="#e0125a" stroke-width="1.0" stroke-linejoin="round"/><path d="M507.21,437.82 L510.56,445.32 L518.72,446.19 L512.62,451.68 L514.33,459.71 L507.21,455.61 L500.10,459.71 L501.81,451.68 L495.71,446.19 L503.87,445.32Z" fill="#f2447f" stroke="#14040c" stroke-width="3.4" stroke-linejoin="round"/><path d="M507.21,437.82 L510.56,445.32 L518.72,446.19 L512.62,451.68 L514.33,459.71 L507.21,455.61 L500.10,459.71 L501.81,451.68 L495.71,446.19 L503.87,445.32Z" fill="#f2447f" stroke="#e0125a" stroke-width="1.0" stroke-linejoin="round"/><path d="M566.85,434.51 L570.20,442.01 L578.36,442.87 L572.26,448.37 L573.96,456.40 L566.85,452.30 L559.74,456.40 L561.44,448.37 L555.34,442.87 L563.51,442.01Z" fill="#f2447f" stroke="#14040c" stroke-width="3.4" stroke-linejoin="round"/><path d="M566.85,434.51 L570.20,442.01 L578.36,442.87 L572.26,448.37 L573.96,456.40 L566.85,452.30 L559.74,456.40 L561.44,448.37 L555.34,442.87 L563.51,442.01Z" fill="#f2447f" stroke="#e0125a" stroke-width="1.0" stroke-linejoin="round"/><path d="M608.46,477.45 L611.80,484.95 L619.96,485.81 L613.86,491.31 L615.57,499.34 L608.46,495.24 L601.34,499.34 L603.05,491.31 L596.95,485.81 L605.11,484.95Z" fill="#f2447f" stroke="#14040c" stroke-width="3.4" stroke-linejoin="round"/><path d="M608.46,477.45 L611.80,484.95 L619.96,485.81 L613.86,491.31 L615.57,499.34 L608.46,495.24 L601.34,499.34 L603.05,491.31 L596.95,485.81 L605.11,484.95Z" fill="#f2447f" stroke="#e0125a" stroke-width="1.0" stroke-linejoin="round"/><path d="M619.86,374.87 L623.21,382.37 L631.37,383.23 L625.27,388.73 L626.98,396.76 L619.86,392.66 L612.75,396.76 L614.46,388.73 L608.36,383.23 L616.52,382.37Z" fill="#f2447f" stroke="#14040c" stroke-width="3.4" stroke-linejoin="round"/><path d="M619.86,374.87 L623.21,382.37 L631.37,383.23 L625.27,388.73 L626.98,396.76 L619.86,392.66 L612.75,396.76 L614.46,388.73 L608.36,383.23 L616.52,382.37Z" fill="#f2447f" stroke="#e0125a" stroke-width="1.0" stroke-linejoin="round"/><path d="M609.10,392.27 L612.44,399.77 L620.60,400.63 L614.51,406.12 L616.21,414.16 L609.10,410.05 L601.98,414.16 L603.69,406.12 L597.59,400.63 L605.75,399.77Z" fill="#f2447f" stroke="#14040c" stroke-width="3.4" stroke-linejoin="round"/><path d="M609.10,392.27 L612.44,399.77 L620.60,400.63 L614.51,406.12 L616.21,414.16 L609.10,410.05 L601.98,414.16 L603.69,406.12 L597.59,400.63 L605.75,399.77Z" fill="#f2447f" stroke="#e0125a" stroke-width="1.0" stroke-linejoin="round"/><path d="M734.55,326.83 L737.89,334.33 L746.06,335.19 L739.96,340.69 L741.66,348.72 L734.55,344.62 L727.44,348.72 L729.14,340.69 L723.04,335.19 L731.21,334.33Z" fill="#f2447f" stroke="#14040c" stroke-width="3.4" stroke-linejoin="round"/><path d="M734.55,326.83 L737.89,334.33 L746.06,335.19 L739.96,340.69 L741.66,348.72 L734.55,344.62 L727.44,348.72 L729.14,340.69 L723.04,335.19 L731.21,334.33Z" fill="#f2447f" stroke="#e0125a" stroke-width="1.0" stroke-linejoin="round"/><path d="M755.26,333.46 L758.60,340.96 L766.76,341.82 L760.66,347.31 L762.37,355.35 L755.26,351.24 L748.14,355.35 L749.85,347.31 L743.75,341.82 L751.91,340.96Z" fill="#f2447f" stroke="#14040c" stroke-width="3.4" stroke-linejoin="round"/><path d="M755.26,333.46 L758.60,340.96 L766.76,341.82 L760.66,347.31 L762.37,355.35 L755.26,351.24 L748.14,355.35 L749.85,347.31 L743.75,341.82 L751.91,340.96Z" fill="#f2447f" stroke="#e0125a" stroke-width="1.0" stroke-linejoin="round"/><path d="M762.71,345.88 L766.05,353.38 L774.22,354.24 L768.12,359.74 L769.82,367.77 L762.71,363.67 L755.60,367.77 L757.30,359.74 L751.20,354.24 L759.37,353.38Z" fill="#f2447f" stroke="#14040c" stroke-width="3.4" stroke-linejoin="round"/><path d="M762.71,345.88 L766.05,353.38 L774.22,354.24 L768.12,359.74 L769.82,367.77 L762.71,363.67 L755.60,367.77 L757.30,359.74 L751.20,354.24 L759.37,353.38Z" fill="#f2447f" stroke="#e0125a" stroke-width="1.0" stroke-linejoin="round"/><path d="M811.58,311.09 L814.92,318.59 L823.09,319.45 L816.99,324.95 L818.69,332.98 L811.58,328.88 L804.47,332.98 L806.17,324.95 L800.07,319.45 L808.24,318.59Z" fill="#f2447f" stroke="#14040c" stroke-width="3.4" stroke-linejoin="round"/><path d="M811.58,311.09 L814.92,318.59 L823.09,319.45 L816.99,324.95 L818.69,332.98 L811.58,328.88 L804.47,332.98 L806.17,324.95 L800.07,319.45 L808.24,318.59Z" fill="#f2447f" stroke="#e0125a" stroke-width="1.0" stroke-linejoin="round"/><path d="M848.86,337.60 L852.20,345.10 L860.36,345.96 L854.26,351.46 L855.97,359.49 L848.86,355.39 L841.74,359.49 L843.45,351.46 L837.35,345.96 L845.51,345.10Z" fill="#f2447f" stroke="#14040c" stroke-width="3.4" stroke-linejoin="round"/><path d="M848.86,337.60 L852.20,345.10 L860.36,345.96 L854.26,351.46 L855.97,359.49 L848.86,355.39 L841.74,359.49 L843.45,351.46 L837.35,345.96 L845.51,345.10Z" fill="#f2447f" stroke="#e0125a" stroke-width="1.0" stroke-linejoin="round"/><path d="M721.30,378.19 L724.64,385.69 L732.80,386.55 L726.70,392.04 L728.41,400.08 L721.30,395.97 L714.18,400.08 L715.89,392.04 L709.79,386.55 L717.95,385.69Z" fill="#f2447f" stroke="#14040c" stroke-width="3.4" stroke-linejoin="round"/><path d="M721.30,378.19 L724.64,385.69 L732.80,386.55 L726.70,392.04 L728.41,400.08 L721.30,395.97 L714.18,400.08 L715.89,392.04 L709.79,386.55 L717.95,385.69Z" fill="#f2447f" stroke="#e0125a" stroke-width="1.0" stroke-linejoin="round"/><path d="M863.92,388.26 L867.26,395.76 L875.42,396.62 L869.32,402.12 L871.03,410.15 L863.92,406.05 L856.80,410.15 L858.51,402.12 L852.41,396.62 L860.57,395.76Z" fill="#f2447f" stroke="#14040c" stroke-width="3.4" stroke-linejoin="round"/><path d="M863.92,388.26 L867.26,395.76 L875.42,396.62 L869.32,402.12 L871.03,410.15 L863.92,406.05 L856.80,410.15 L858.51,402.12 L852.41,396.62 L860.57,395.76Z" fill="#f2447f" stroke="#e0125a" stroke-width="1.0" stroke-linejoin="round"/><path d="M839.74,400.55 L843.09,408.05 L851.25,408.91 L845.15,414.41 L846.86,422.44 L839.74,418.34 L832.63,422.44 L834.34,414.41 L828.24,408.91 L836.40,408.05Z" fill="#f2447f" stroke="#14040c" stroke-width="3.4" stroke-linejoin="round"/><path d="M839.74,400.55 L843.09,408.05 L851.25,408.91 L845.15,414.41 L846.86,422.44 L839.74,418.34 L832.63,422.44 L834.34,414.41 L828.24,408.91 L836.40,408.05Z" fill="#f2447f" stroke="#e0125a" stroke-width="1.0" stroke-linejoin="round"/><path d="M752.77,315.23 L756.11,322.73 L764.28,323.60 L758.18,329.09 L759.88,337.12 L752.77,333.02 L745.66,337.12 L747.36,329.09 L741.26,323.60 L749.43,322.73Z" fill="#f2447f" stroke="#14040c" stroke-width="3.4" stroke-linejoin="round"/><path d="M752.77,315.23 L756.11,322.73 L764.28,323.60 L758.18,329.09 L759.88,337.12 L752.77,333.02 L745.66,337.12 L747.36,329.09 L741.26,323.60 L749.43,322.73Z" fill="#f2447f" stroke="#e0125a" stroke-width="1.0" stroke-linejoin="round"/><path d="M766.02,314.41 L769.37,321.91 L777.53,322.77 L771.43,328.26 L773.14,336.30 L766.02,332.19 L758.91,336.30 L760.62,328.26 L754.52,322.77 L762.68,321.91Z" fill="#f2447f" stroke="#14040c" stroke-width="3.4" stroke-linejoin="round"/><path d="M766.02,314.41 L769.37,321.91 L777.53,322.77 L771.43,328.26 L773.14,336.30 L766.02,332.19 L758.91,336.30 L760.62,328.26 L754.52,322.77 L762.68,321.91Z" fill="#f2447f" stroke="#e0125a" stroke-width="1.0" stroke-linejoin="round"/><path d="M805.78,325.17 L809.13,332.67 L817.29,333.53 L811.19,339.03 L812.90,347.06 L805.78,342.96 L798.67,347.06 L800.37,339.03 L794.28,333.53 L802.44,332.67Z" fill="#f2447f" stroke="#14040c" stroke-width="3.4" stroke-linejoin="round"/><path d="M805.78,325.17 L809.13,332.67 L817.29,333.53 L811.19,339.03 L812.90,347.06 L805.78,342.96 L798.67,347.06 L800.37,339.03 L794.28,333.53 L802.44,332.67Z" fill="#f2447f" stroke="#e0125a" stroke-width="1.0" stroke-linejoin="round"/><path d="M804.13,338.43 L807.47,345.93 L815.63,346.79 L809.54,352.28 L811.24,360.32 L804.13,356.21 L797.01,360.32 L798.72,352.28 L792.62,346.79 L800.78,345.93Z" fill="#f2447f" stroke="#14040c" stroke-width="3.4" stroke-linejoin="round"/><path d="M804.13,338.43 L807.47,345.93 L815.63,346.79 L809.54,352.28 L811.24,360.32 L804.13,356.21 L797.01,360.32 L798.72,352.28 L792.62,346.79 L800.78,345.93Z" fill="#f2447f" stroke="#e0125a" stroke-width="1.0" stroke-linejoin="round"/><path d="M814.07,340.91 L817.41,348.41 L825.57,349.27 L819.47,354.77 L821.18,362.80 L814.07,358.70 L806.95,362.80 L808.66,354.77 L802.56,349.27 L810.72,348.41Z" fill="#f2447f" stroke="#14040c" stroke-width="3.4" stroke-linejoin="round"/><path d="M814.07,340.91 L817.41,348.41 L825.57,349.27 L819.47,354.77 L821.18,362.80 L814.07,358.70 L806.95,362.80 L808.66,354.77 L802.56,349.27 L810.72,348.41Z" fill="#f2447f" stroke="#e0125a" stroke-width="1.0" stroke-linejoin="round"/><path d="M712.18,364.93 L715.53,372.43 L723.69,373.29 L717.59,378.79 L719.30,386.82 L712.18,382.72 L705.07,386.82 L706.78,378.79 L700.68,373.29 L708.84,372.43Z" fill="#f2447f" stroke="#14040c" stroke-width="3.4" stroke-linejoin="round"/><path d="M712.18,364.93 L715.53,372.43 L723.69,373.29 L717.59,378.79 L719.30,386.82 L712.18,382.72 L705.07,386.82 L706.78,378.79 L700.68,373.29 L708.84,372.43Z" fill="#f2447f" stroke="#e0125a" stroke-width="1.0" stroke-linejoin="round"/><path d="M714.67,397.24 L718.01,404.74 L726.18,405.60 L720.08,411.09 L721.78,419.13 L714.67,415.02 L707.56,419.13 L709.26,411.09 L703.16,405.60 L711.33,404.74Z" fill="#f2447f" stroke="#14040c" stroke-width="3.4" stroke-linejoin="round"/><path d="M714.67,397.24 L718.01,404.74 L726.18,405.60 L720.08,411.09 L721.78,419.13 L714.67,415.02 L707.56,419.13 L709.26,411.09 L703.16,405.60 L711.33,404.74Z" fill="#f2447f" stroke="#e0125a" stroke-width="1.0" stroke-linejoin="round"/><path d="M733.72,397.24 L737.06,404.74 L745.23,405.60 L739.13,411.09 L740.83,419.13 L733.72,415.02 L726.61,419.13 L728.31,411.09 L722.21,405.60 L730.38,404.74Z" fill="#f2447f" stroke="#14040c" stroke-width="3.4" stroke-linejoin="round"/><path d="M733.72,397.24 L737.06,404.74 L745.23,405.60 L739.13,411.09 L740.83,419.13 L733.72,415.02 L726.61,419.13 L728.31,411.09 L722.21,405.60 L730.38,404.74Z" fill="#f2447f" stroke="#e0125a" stroke-width="1.0" stroke-linejoin="round"/><path d="M722.12,407.18 L725.47,414.68 L733.63,415.54 L727.53,421.03 L729.24,429.07 L722.12,424.96 L715.01,429.07 L716.71,421.03 L710.62,415.54 L718.78,414.68Z" fill="#f2447f" stroke="#14040c" stroke-width="3.4" stroke-linejoin="round"/><path d="M722.12,407.18 L725.47,414.68 L733.63,415.54 L727.53,421.03 L729.24,429.07 L722.12,424.96 L715.01,429.07 L716.71,421.03 L710.62,415.54 L718.78,414.68Z" fill="#f2447f" stroke="#e0125a" stroke-width="1.0" stroke-linejoin="round"/><path d="M698.10,415.46 L701.45,422.96 L709.61,423.82 L703.51,429.32 L705.21,437.35 L698.10,433.25 L690.99,437.35 L692.69,429.32 L686.59,423.82 L694.76,422.96Z" fill="#f2447f" stroke="#14040c" stroke-width="3.4" stroke-linejoin="round"/><path d="M698.10,415.46 L701.45,422.96 L709.61,423.82 L703.51,429.32 L705.21,437.35 L698.10,433.25 L690.99,437.35 L692.69,429.32 L686.59,423.82 L694.76,422.96Z" fill="#f2447f" stroke="#e0125a" stroke-width="1.0" stroke-linejoin="round"/><path d="M715.50,437.82 L718.84,445.32 L727.00,446.19 L720.91,451.68 L722.61,459.71 L715.50,455.61 L708.38,459.71 L710.09,451.68 L703.99,446.19 L712.15,445.32Z" fill="#f2447f" stroke="#14040c" stroke-width="3.4" stroke-linejoin="round"/><path d="M715.50,437.82 L718.84,445.32 L727.00,446.19 L720.91,451.68 L722.61,459.71 L715.50,455.61 L708.38,459.71 L710.09,451.68 L703.99,446.19 L712.15,445.32Z" fill="#f2447f" stroke="#e0125a" stroke-width="1.0" stroke-linejoin="round"/><path d="M688.99,456.88 L692.33,464.38 L700.50,465.24 L694.40,470.73 L696.10,478.77 L688.99,474.66 L681.88,478.77 L683.58,470.73 L677.48,465.24 L685.65,464.38Z" fill="#f2447f" stroke="#14040c" stroke-width="3.4" stroke-linejoin="round"/><path d="M688.99,456.88 L692.33,464.38 L700.50,465.24 L694.40,470.73 L696.10,478.77 L688.99,474.66 L681.88,478.77 L683.58,470.73 L677.48,465.24 L685.65,464.38Z" fill="#f2447f" stroke="#e0125a" stroke-width="1.0" stroke-linejoin="round"/><path d="M739.37,471.57 L742.71,479.07 L750.88,479.94 L744.78,485.43 L746.48,493.46 L739.37,489.36 L732.26,493.46 L733.96,485.43 L727.86,479.94 L736.02,479.07Z" fill="#f2447f" stroke="#14040c" stroke-width="3.4" stroke-linejoin="round"/><path d="M739.37,471.57 L742.71,479.07 L750.88,479.94 L744.78,485.43 L746.48,493.46 L739.37,489.36 L732.26,493.46 L733.96,485.43 L727.86,479.94 L736.02,479.07Z" fill="#f2447f" stroke="#e0125a" stroke-width="1.0" stroke-linejoin="round"/><path d="M741.89,491.94 L745.23,499.44 L753.40,500.30 L747.30,505.80 L749.00,513.83 L741.89,509.73 L734.78,513.83 L736.48,505.80 L730.38,500.30 L738.55,499.44Z" fill="#f2447f" stroke="#14040c" stroke-width="3.4" stroke-linejoin="round"/><path d="M741.89,491.94 L745.23,499.44 L753.40,500.30 L747.30,505.80 L749.00,513.83 L741.89,509.73 L734.78,513.83 L736.48,505.80 L730.38,500.30 L738.55,499.44Z" fill="#f2447f" stroke="#e0125a" stroke-width="1.0" stroke-linejoin="round"/><path d="M704.02,494.21 L707.36,501.71 L715.53,502.57 L709.43,508.07 L711.13,516.10 L704.02,512.00 L696.91,516.10 L698.61,508.07 L692.51,502.57 L700.68,501.71Z" fill="#f2447f" stroke="#14040c" stroke-width="3.4" stroke-linejoin="round"/><path d="M704.02,494.21 L707.36,501.71 L715.53,502.57 L709.43,508.07 L711.13,516.10 L704.02,512.00 L696.91,516.10 L698.61,508.07 L692.51,502.57 L700.68,501.71Z" fill="#f2447f" stroke="#e0125a" stroke-width="1.0" stroke-linejoin="round"/><path d="M806.61,367.42 L809.95,374.92 L818.12,375.78 L812.02,381.28 L813.72,389.31 L806.61,385.21 L799.50,389.31 L801.20,381.28 L795.10,375.78 L803.27,374.92Z" fill="#f2447f" stroke="#14040c" stroke-width="3.4" stroke-linejoin="round"/><path d="M806.61,367.42 L809.95,374.92 L818.12,375.78 L812.02,381.28 L813.72,389.31 L806.61,385.21 L799.50,389.31 L801.20,381.28 L795.10,375.78 L803.27,374.92Z" fill="#f2447f" stroke="#e0125a" stroke-width="1.0" stroke-linejoin="round"/><path d="M807.44,385.64 L810.78,393.14 L818.95,394.00 L812.85,399.50 L814.55,407.53 L807.44,403.43 L800.33,407.53 L802.03,399.50 L795.93,394.00 L804.10,393.14Z" fill="#f2447f" stroke="#14040c" stroke-width="3.4" stroke-linejoin="round"/><path d="M807.44,385.64 L810.78,393.14 L818.95,394.00 L812.85,399.50 L814.55,407.53 L807.44,403.43 L800.33,407.53 L802.03,399.50 L795.93,394.00 L804.10,393.14Z" fill="#f2447f" stroke="#e0125a" stroke-width="1.0" stroke-linejoin="round"/><path d="M848.03,365.76 L851.37,373.26 L859.53,374.12 L853.44,379.62 L855.14,387.65 L848.03,383.55 L840.91,387.65 L842.62,379.62 L836.52,374.12 L844.68,373.26Z" fill="#f2447f" stroke="#14040c" stroke-width="3.4" stroke-linejoin="round"/><path d="M848.03,365.76 L851.37,373.26 L859.53,374.12 L853.44,379.62 L855.14,387.65 L848.03,383.55 L840.91,387.65 L842.62,379.62 L836.52,374.12 L844.68,373.26Z" fill="#f2447f" stroke="#e0125a" stroke-width="1.0" stroke-linejoin="round"/><path d="M836.43,380.67 L839.77,388.17 L847.94,389.03 L841.84,394.53 L843.54,402.56 L836.43,398.46 L829.32,402.56 L831.02,394.53 L824.92,389.03 L833.09,388.17Z" fill="#f2447f" stroke="#14040c" stroke-width="3.4" stroke-linejoin="round"/><path d="M836.43,380.67 L839.77,388.17 L847.94,389.03 L841.84,394.53 L843.54,402.56 L836.43,398.46 L829.32,402.56 L831.02,394.53 L824.92,389.03 L833.09,388.17Z" fill="#f2447f" stroke="#e0125a" stroke-width="1.0" stroke-linejoin="round"/><path d="M863.09,376.87 L866.43,384.37 L874.60,385.23 L868.50,390.73 L870.20,398.76 L863.09,394.66 L855.98,398.76 L857.68,390.73 L851.58,385.23 L859.74,384.37Z" fill="#f2447f" stroke="#14040c" stroke-width="3.4" stroke-linejoin="round"/><path d="M863.09,376.87 L866.43,384.37 L874.60,385.23 L868.50,390.73 L870.20,398.76 L863.09,394.66 L855.98,398.76 L857.68,390.73 L851.58,385.23 L859.74,384.37Z" fill="#f2447f" stroke="#e0125a" stroke-width="1.0" stroke-linejoin="round"/><path d="M833.95,403.86 L837.29,411.36 L845.45,412.22 L839.35,417.72 L841.06,425.75 L833.95,421.65 L826.83,425.75 L828.54,417.72 L822.44,412.22 L830.60,411.36Z" fill="#f2447f" stroke="#14040c" stroke-width="3.4" stroke-linejoin="round"/><path d="M833.95,403.86 L837.29,411.36 L845.45,412.22 L839.35,417.72 L841.06,425.75 L833.95,421.65 L826.83,425.75 L828.54,417.72 L822.44,412.22 L830.60,411.36Z" fill="#f2447f" stroke="#e0125a" stroke-width="1.0" stroke-linejoin="round"/><path d="M852.17,420.43 L855.51,427.93 L863.68,428.79 L857.58,434.29 L859.28,442.32 L852.17,438.22 L845.06,442.32 L846.76,434.29 L840.66,428.79 L848.83,427.93Z" fill="#f2447f" stroke="#14040c" stroke-width="3.4" stroke-linejoin="round"/><path d="M852.17,420.43 L855.51,427.93 L863.68,428.79 L857.58,434.29 L859.28,442.32 L852.17,438.22 L845.06,442.32 L846.76,434.29 L840.66,428.79 L848.83,427.93Z" fill="#f2447f" stroke="#e0125a" stroke-width="1.0" stroke-linejoin="round"/><path d="M874.03,505.23 L877.37,512.73 L885.53,513.59 L879.43,519.09 L881.14,527.12 L874.03,523.02 L866.91,527.12 L868.62,519.09 L862.52,513.59 L870.68,512.73Z" fill="#f2447f" stroke="#14040c" stroke-width="3.4" stroke-linejoin="round"/><path d="M874.03,505.23 L877.37,512.73 L885.53,513.59 L879.43,519.09 L881.14,527.12 L874.03,523.02 L866.91,527.12 L868.62,519.09 L862.52,513.59 L870.68,512.73Z" fill="#f2447f" stroke="#e0125a" stroke-width="1.0" stroke-linejoin="round"/><path d="M958.61,367.88 L961.95,375.38 L970.11,376.24 L964.02,381.73 L965.72,389.77 L958.61,385.66 L951.49,389.77 L953.20,381.73 L947.10,376.24 L955.26,375.38Z" fill="#f2447f" stroke="#14040c" stroke-width="3.4" stroke-linejoin="round"/><path d="M958.61,367.88 L961.95,375.38 L970.11,376.24 L964.02,381.73 L965.72,389.77 L958.61,385.66 L951.49,389.77 L953.20,381.73 L947.10,376.24 L955.26,375.38Z" fill="#f2447f" stroke="#e0125a" stroke-width="1.0" stroke-linejoin="round"/><path d="M922.01,367.88 L925.35,375.38 L933.52,376.24 L927.42,381.73 L929.12,389.77 L922.01,385.66 L914.90,389.77 L916.60,381.73 L910.50,376.24 L918.67,375.38Z" fill="#f2447f" stroke="#14040c" stroke-width="3.4" stroke-linejoin="round"/><path d="M922.01,367.88 L925.35,375.38 L933.52,376.24 L927.42,381.73 L929.12,389.77 L922.01,385.66 L914.90,389.77 L916.60,381.73 L910.50,376.24 L918.67,375.38Z" fill="#f2447f" stroke="#e0125a" stroke-width="1.0" stroke-linejoin="round"/><path d="M897.61,439.04 L900.96,446.54 L909.12,447.40 L903.02,452.89 L904.73,460.93 L897.61,456.82 L890.50,460.93 L892.20,452.89 L886.11,447.40 L894.27,446.54Z" fill="#f2447f" stroke="#14040c" stroke-width="3.4" stroke-linejoin="round"/><path d="M897.61,439.04 L900.96,446.54 L909.12,447.40 L903.02,452.89 L904.73,460.93 L897.61,456.82 L890.50,460.93 L892.20,452.89 L886.11,447.40 L894.27,446.54Z" fill="#f2447f" stroke="#e0125a" stroke-width="1.0" stroke-linejoin="round"/></g><g clip-path="url(#cb)"><g fill="#26aca8"><circle cx="224.3" cy="1227.6" r="12.10"/><circle cx="365.2" cy="1165.0" r="12.10"/><circle cx="383.6" cy="1213.5" r="12.10"/><circle cx="792.0" cy="835.8" r="12.10"/><circle cx="803.2" cy="847.0" r="12.10"/><circle cx="696.3" cy="870.1" r="12.10"/><circle cx="739.8" cy="890.5" r="12.10"/><circle cx="631.0" cy="912.1" r="12.10"/><circle cx="763.9" cy="936.9" r="12.10"/><circle cx="591.2" cy="994.3" r="12.10"/><circle cx="571.3" cy="1022.7" r="12.10"/><circle cx="797.5" cy="1007.3" r="12.10"/><circle cx="646.4" cy="1052.9" r="12.10"/><circle cx="658.0" cy="1057.8" r="12.10"/><circle cx="728.4" cy="1048.3" r="12.10"/><circle cx="760.9" cy="1045.8" r="12.10"/><circle cx="596.9" cy="1081.2" r="12.10"/><circle cx="613.1" cy="1080.2" r="12.10"/><circle cx="827.1" cy="1015.9" r="12.10"/><circle cx="882.3" cy="925.6" r="12.10"/><circle cx="908.8" cy="921.0" r="12.10"/><circle cx="935.6" cy="924.0" r="12.10"/><circle cx="965.2" cy="925.7" r="12.10"/><circle cx="865.9" cy="943.9" r="12.10"/><circle cx="935.9" cy="966.7" r="12.10"/><circle cx="843.5" cy="1022.2" r="12.10"/><circle cx="867.1" cy="1007.3" r="12.10"/><circle cx="870.8" cy="1019.7" r="12.10"/><circle cx="869.6" cy="1033.3" r="12.10"/><circle cx="854.7" cy="1040.8" r="12.10"/><circle cx="905.5" cy="1020.4" r="12.10"/><circle cx="930.9" cy="1007.4" r="12.10"/><circle cx="958.3" cy="1003.5" r="12.10"/><circle cx="1030.4" cy="1030.0" r="12.10"/><circle cx="867.7" cy="1068.1" r="12.10"/><circle cx="878.5" cy="1074.0" r="12.10"/><circle cx="857.7" cy="1089.3" r="12.10"/><circle cx="1062.0" cy="1078.8" r="12.10"/><circle cx="1048.4" cy="1092.0" r="12.10"/><circle cx="664.0" cy="1107.2" r="12.10"/><circle cx="657.8" cy="1135.0" r="12.10"/><circle cx="729.9" cy="1106.7" r="12.10"/><circle cx="749.7" cy="1100.9" r="12.10"/><circle cx="748.5" cy="1115.1" r="12.10"/><circle cx="710.5" cy="1160.6" r="12.10"/><circle cx="798.9" cy="1156.9" r="12.10"/><circle cx="784.0" cy="1167.3" r="12.10"/><circle cx="797.7" cy="1136.0" r="12.10"/><circle cx="818.1" cy="1124.6" r="12.10"/><circle cx="828.4" cy="1099.7" r="12.10"/><circle cx="830.6" cy="1147.4" r="12.10"/><circle cx="646.1" cy="1176.0" r="12.10"/><circle cx="583.2" cy="1204.6" r="12.10"/><circle cx="570.8" cy="1218.2" r="12.10"/><circle cx="732.3" cy="1208.4" r="12.10"/><circle cx="807.5" cy="1194.1" r="12.10"/><circle cx="809.9" cy="1221.1" r="12.10"/><circle cx="565.1" cy="1261.2" r="12.10"/><circle cx="783.8" cy="1266.7" r="12.10"/><circle cx="845.8" cy="1113.9" r="12.10"/><circle cx="877.4" cy="1112.7" r="12.10"/><circle cx="889.8" cy="1116.9" r="12.10"/><circle cx="837.7" cy="1137.3" r="12.10"/><circle cx="855.7" cy="1135.2" r="12.10"/><circle cx="841.3" cy="1156.9" r="12.10"/><circle cx="914.4" cy="1151.6" r="12.10"/><circle cx="944.0" cy="1119.3" r="12.10"/><circle cx="976.7" cy="1101.8" r="12.10"/><circle cx="1034.5" cy="1151.9" r="12.10"/><circle cx="1152.3" cy="1160.6" r="12.10"/><circle cx="944.0" cy="1215.7" r="12.10"/></g><g fill="#9adcd0"><circle cx="224.3" cy="1227.6" r="9.20"/><circle cx="365.2" cy="1165.0" r="9.20"/><circle cx="383.6" cy="1213.5" r="9.20"/><circle cx="792.0" cy="835.8" r="9.20"/><circle cx="803.2" cy="847.0" r="9.20"/><circle cx="696.3" cy="870.1" r="9.20"/><circle cx="739.8" cy="890.5" r="9.20"/><circle cx="631.0" cy="912.1" r="9.20"/><circle cx="763.9" cy="936.9" r="9.20"/><circle cx="591.2" cy="994.3" r="9.20"/><circle cx="571.3" cy="1022.7" r="9.20"/><circle cx="797.5" cy="1007.3" r="9.20"/><circle cx="646.4" cy="1052.9" r="9.20"/><circle cx="658.0" cy="1057.8" r="9.20"/><circle cx="728.4" cy="1048.3" r="9.20"/><circle cx="760.9" cy="1045.8" r="9.20"/><circle cx="596.9" cy="1081.2" r="9.20"/><circle cx="613.1" cy="1080.2" r="9.20"/><circle cx="827.1" cy="1015.9" r="9.20"/><circle cx="882.3" cy="925.6" r="9.20"/><circle cx="908.8" cy="921.0" r="9.20"/><circle cx="935.6" cy="924.0" r="9.20"/><circle cx="965.2" cy="925.7" r="9.20"/><circle cx="865.9" cy="943.9" r="9.20"/><circle cx="935.9" cy="966.7" r="9.20"/><circle cx="843.5" cy="1022.2" r="9.20"/><circle cx="867.1" cy="1007.3" r="9.20"/><circle cx="870.8" cy="1019.7" r="9.20"/><circle cx="869.6" cy="1033.3" r="9.20"/><circle cx="854.7" cy="1040.8" r="9.20"/><circle cx="905.5" cy="1020.4" r="9.20"/><circle cx="930.9" cy="1007.4" r="9.20"/><circle cx="958.3" cy="1003.5" r="9.20"/><circle cx="1030.4" cy="1030.0" r="9.20"/><circle cx="867.7" cy="1068.1" r="9.20"/><circle cx="878.5" cy="1074.0" r="9.20"/><circle cx="857.7" cy="1089.3" r="9.20"/><circle cx="1062.0" cy="1078.8" r="9.20"/><circle cx="1048.4" cy="1092.0" r="9.20"/><circle cx="664.0" cy="1107.2" r="9.20"/><circle cx="657.8" cy="1135.0" r="9.20"/><circle cx="729.9" cy="1106.7" r="9.20"/><circle cx="749.7" cy="1100.9" r="9.20"/><circle cx="748.5" cy="1115.1" r="9.20"/><circle cx="710.5" cy="1160.6" r="9.20"/><circle cx="798.9" cy="1156.9" r="9.20"/><circle cx="784.0" cy="1167.3" r="9.20"/><circle cx="797.7" cy="1136.0" r="9.20"/><circle cx="818.1" cy="1124.6" r="9.20"/><circle cx="828.4" cy="1099.7" r="9.20"/><circle cx="830.6" cy="1147.4" r="9.20"/><circle cx="646.1" cy="1176.0" r="9.20"/><circle cx="583.2" cy="1204.6" r="9.20"/><circle cx="570.8" cy="1218.2" r="9.20"/><circle cx="732.3" cy="1208.4" r="9.20"/><circle cx="807.5" cy="1194.1" r="9.20"/><circle cx="809.9" cy="1221.1" r="9.20"/><circle cx="565.1" cy="1261.2" r="9.20"/><circle cx="783.8" cy="1266.7" r="9.20"/><circle cx="845.8" cy="1113.9" r="9.20"/><circle cx="877.4" cy="1112.7" r="9.20"/><circle cx="889.8" cy="1116.9" r="9.20"/><circle cx="837.7" cy="1137.3" r="9.20"/><circle cx="855.7" cy="1135.2" r="9.20"/><circle cx="841.3" cy="1156.9" r="9.20"/><circle cx="914.4" cy="1151.6" r="9.20"/><circle cx="944.0" cy="1119.3" r="9.20"/><circle cx="976.7" cy="1101.8" r="9.20"/><circle cx="1034.5" cy="1151.9" r="9.20"/><circle cx="1152.3" cy="1160.6" r="9.20"/><circle cx="944.0" cy="1215.7" r="9.20"/></g><g fill="#0b8885"><circle cx="521.1" cy="1039.5" r="12.10"/><circle cx="810.0" cy="790.3" r="12.10"/><circle cx="762.2" cy="885.5" r="12.10"/><circle cx="686.9" cy="897.4" r="12.10"/><circle cx="790.0" cy="926.0" r="12.10"/><circle cx="753.5" cy="964.3" r="12.10"/><circle cx="546.0" cy="1005.5" r="12.10"/><circle cx="650.3" cy="1002.3" r="12.10"/><circle cx="827.4" cy="877.8" r="12.10"/><circle cx="753.5" cy="1056.0" r="12.10"/><circle cx="772.3" cy="1050.4" r="12.10"/><circle cx="829.3" cy="1042.0" r="12.10"/><circle cx="888.0" cy="892.9" r="12.10"/><circle cx="961.6" cy="907.9" r="12.10"/><circle cx="878.5" cy="945.5" r="12.10"/><circle cx="887.9" cy="959.7" r="12.10"/><circle cx="905.5" cy="961.7" r="12.10"/><circle cx="838.5" cy="1017.7" r="12.10"/><circle cx="753.5" cy="1204.1" r="12.10"/><circle cx="958.3" cy="1102.8" r="12.10"/><circle cx="1077.7" cy="1104.1" r="12.10"/></g><g fill="#46b4ae"><circle cx="521.1" cy="1039.5" r="9.20"/><circle cx="810.0" cy="790.3" r="9.20"/><circle cx="762.2" cy="885.5" r="9.20"/><circle cx="686.9" cy="897.4" r="9.20"/><circle cx="790.0" cy="926.0" r="9.20"/><circle cx="753.5" cy="964.3" r="9.20"/><circle cx="546.0" cy="1005.5" r="9.20"/><circle cx="650.3" cy="1002.3" r="9.20"/><circle cx="827.4" cy="877.8" r="9.20"/><circle cx="753.5" cy="1056.0" r="9.20"/><circle cx="772.3" cy="1050.4" r="9.20"/><circle cx="829.3" cy="1042.0" r="9.20"/><circle cx="888.0" cy="892.9" r="9.20"/><circle cx="961.6" cy="907.9" r="9.20"/><circle cx="878.5" cy="945.5" r="9.20"/><circle cx="887.9" cy="959.7" r="9.20"/><circle cx="905.5" cy="961.7" r="9.20"/><circle cx="838.5" cy="1017.7" r="9.20"/><circle cx="753.5" cy="1204.1" r="9.20"/><circle cx="958.3" cy="1102.8" r="9.20"/><circle cx="1077.7" cy="1104.1" r="9.20"/></g><path d="M733.58,865.17 L737.53,874.34 L747.47,875.26 L739.97,881.85 L742.17,891.59 L733.58,886.49 L725.00,891.59 L727.20,881.85 L719.70,875.26 L729.64,874.34Z" fill="#f5c1c5" stroke="#000" stroke-width="4.6" stroke-linejoin="round"/><path d="M733.58,865.17 L737.53,874.34 L747.47,875.26 L739.97,881.85 L742.17,891.59 L733.58,886.49 L725.00,891.59 L727.20,881.85 L719.70,875.26 L729.64,874.34Z" fill="#f5c1c5" stroke="#f59c9e" stroke-width="1.6" stroke-linejoin="round"/><path d="M665.99,1092.06 L669.94,1101.22 L679.88,1102.14 L672.38,1108.73 L674.58,1118.47 L665.99,1113.37 L657.41,1118.47 L659.61,1108.73 L652.11,1102.14 L662.05,1101.22Z" fill="#f5c1c5" stroke="#000" stroke-width="4.6" stroke-linejoin="round"/><path d="M665.99,1092.06 L669.94,1101.22 L679.88,1102.14 L672.38,1108.73 L674.58,1118.47 L665.99,1113.37 L657.41,1118.47 L659.61,1108.73 L652.11,1102.14 L662.05,1101.22Z" fill="#f5c1c5" stroke="#f59c9e" stroke-width="1.6" stroke-linejoin="round"/><path d="M306.94,1245.07 L312.46,1250.59 L306.10,1256.95 L312.46,1263.31 L306.94,1268.83 L300.58,1262.47 L294.22,1268.83 L288.70,1263.31 L295.06,1256.95 L288.70,1250.59 L294.22,1245.07 L300.58,1251.43Z" fill="#fff" stroke="#000" stroke-width="3.7" stroke-linejoin="round"/><path d="M747.40,1121.37 L752.92,1126.88 L746.55,1133.25 L752.92,1139.61 L747.40,1145.12 L741.04,1138.76 L734.68,1145.12 L729.16,1139.61 L735.52,1133.25 L729.16,1126.88 L734.68,1121.37 L741.04,1127.73Z" fill="#fff" stroke="#000" stroke-width="3.7" stroke-linejoin="round"/></g>
<line x1="155.30" y1="659.07" x2="155.30" y2="635.57" stroke="#000" stroke-width="4.6"/><line x1="155.30" y1="1.6700000000000728" x2="155.30" y2="25.17" stroke="#000" stroke-width="4.6"/><line x1="186.10" y1="659.07" x2="186.10" y2="645.87" stroke="#000" stroke-width="3.6"/><line x1="186.10" y1="1.6700000000000728" x2="186.10" y2="14.87" stroke="#000" stroke-width="3.6"/><line x1="216.90" y1="659.07" x2="216.90" y2="645.87" stroke="#000" stroke-width="3.6"/><line x1="216.90" y1="1.6700000000000728" x2="216.90" y2="14.87" stroke="#000" stroke-width="3.6"/><line x1="247.70" y1="659.07" x2="247.70" y2="645.87" stroke="#000" stroke-width="3.6"/><line x1="247.70" y1="1.6700000000000728" x2="247.70" y2="14.87" stroke="#000" stroke-width="3.6"/><line x1="278.50" y1="659.07" x2="278.50" y2="645.87" stroke="#000" stroke-width="3.6"/><line x1="278.50" y1="1.6700000000000728" x2="278.50" y2="14.87" stroke="#000" stroke-width="3.6"/><line x1="309.30" y1="659.07" x2="309.30" y2="635.57" stroke="#000" stroke-width="4.6"/><line x1="309.30" y1="1.6700000000000728" x2="309.30" y2="25.17" stroke="#000" stroke-width="4.6"/><line x1="340.10" y1="659.07" x2="340.10" y2="645.87" stroke="#000" stroke-width="3.6"/><line x1="340.10" y1="1.6700000000000728" x2="340.10" y2="14.87" stroke="#000" stroke-width="3.6"/><line x1="370.90" y1="659.07" x2="370.90" y2="645.87" stroke="#000" stroke-width="3.6"/><line x1="370.90" y1="1.6700000000000728" x2="370.90" y2="14.87" stroke="#000" stroke-width="3.6"/><line x1="401.70" y1="659.07" x2="401.70" y2="645.87" stroke="#000" stroke-width="3.6"/><line x1="401.70" y1="1.6700000000000728" x2="401.70" y2="14.87" stroke="#000" stroke-width="3.6"/><line x1="432.50" y1="659.07" x2="432.50" y2="645.87" stroke="#000" stroke-width="3.6"/><line x1="432.50" y1="1.6700000000000728" x2="432.50" y2="14.87" stroke="#000" stroke-width="3.6"/><line x1="463.30" y1="659.07" x2="463.30" y2="635.57" stroke="#000" stroke-width="4.6"/><line x1="463.30" y1="1.6700000000000728" x2="463.30" y2="25.17" stroke="#000" stroke-width="4.6"/><line x1="494.10" y1="659.07" x2="494.10" y2="645.87" stroke="#000" stroke-width="3.6"/><line x1="494.10" y1="1.6700000000000728" x2="494.10" y2="14.87" stroke="#000" stroke-width="3.6"/><line x1="524.90" y1="659.07" x2="524.90" y2="645.87" stroke="#000" stroke-width="3.6"/><line x1="524.90" y1="1.6700000000000728" x2="524.90" y2="14.87" stroke="#000" stroke-width="3.6"/><line x1="555.70" y1="659.07" x2="555.70" y2="645.87" stroke="#000" stroke-width="3.6"/><line x1="555.70" y1="1.6700000000000728" x2="555.70" y2="14.87" stroke="#000" stroke-width="3.6"/><line x1="586.50" y1="659.07" x2="586.50" y2="645.87" stroke="#000" stroke-width="3.6"/><line x1="586.50" y1="1.6700000000000728" x2="586.50" y2="14.87" stroke="#000" stroke-width="3.6"/><line x1="617.30" y1="659.07" x2="617.30" y2="635.57" stroke="#000" stroke-width="4.6"/><line x1="617.30" y1="1.6700000000000728" x2="617.30" y2="25.17" stroke="#000" stroke-width="4.6"/><line x1="648.10" y1="659.07" x2="648.10" y2="645.87" stroke="#000" stroke-width="3.6"/><line x1="648.10" y1="1.6700000000000728" x2="648.10" y2="14.87" stroke="#000" stroke-width="3.6"/><line x1="678.90" y1="659.07" x2="678.90" y2="645.87" stroke="#000" stroke-width="3.6"/><line x1="678.90" y1="1.6700000000000728" x2="678.90" y2="14.87" stroke="#000" stroke-width="3.6"/><line x1="709.70" y1="659.07" x2="709.70" y2="645.87" stroke="#000" stroke-width="3.6"/><line x1="709.70" y1="1.6700000000000728" x2="709.70" y2="14.87" stroke="#000" stroke-width="3.6"/><line x1="740.50" y1="659.07" x2="740.50" y2="645.87" stroke="#000" stroke-width="3.6"/><line x1="740.50" y1="1.6700000000000728" x2="740.50" y2="14.87" stroke="#000" stroke-width="3.6"/><line x1="771.30" y1="659.07" x2="771.30" y2="635.57" stroke="#000" stroke-width="4.6"/><line x1="771.30" y1="1.6700000000000728" x2="771.30" y2="25.17" stroke="#000" stroke-width="4.6"/><line x1="802.10" y1="659.07" x2="802.10" y2="645.87" stroke="#000" stroke-width="3.6"/><line x1="802.10" y1="1.6700000000000728" x2="802.10" y2="14.87" stroke="#000" stroke-width="3.6"/><line x1="832.90" y1="659.07" x2="832.90" y2="645.87" stroke="#000" stroke-width="3.6"/><line x1="832.90" y1="1.6700000000000728" x2="832.90" y2="14.87" stroke="#000" stroke-width="3.6"/><line x1="863.70" y1="659.07" x2="863.70" y2="645.87" stroke="#000" stroke-width="3.6"/><line x1="863.70" y1="1.6700000000000728" x2="863.70" y2="14.87" stroke="#000" stroke-width="3.6"/><line x1="894.50" y1="659.07" x2="894.50" y2="645.87" stroke="#000" stroke-width="3.6"/><line x1="894.50" y1="1.6700000000000728" x2="894.50" y2="14.87" stroke="#000" stroke-width="3.6"/><line x1="925.30" y1="659.07" x2="925.30" y2="635.57" stroke="#000" stroke-width="4.6"/><line x1="925.30" y1="1.6700000000000728" x2="925.30" y2="25.17" stroke="#000" stroke-width="4.6"/><line x1="956.10" y1="659.07" x2="956.10" y2="645.87" stroke="#000" stroke-width="3.6"/><line x1="956.10" y1="1.6700000000000728" x2="956.10" y2="14.87" stroke="#000" stroke-width="3.6"/><line x1="986.90" y1="659.07" x2="986.90" y2="645.87" stroke="#000" stroke-width="3.6"/><line x1="986.90" y1="1.6700000000000728" x2="986.90" y2="14.87" stroke="#000" stroke-width="3.6"/><line x1="1017.70" y1="659.07" x2="1017.70" y2="645.87" stroke="#000" stroke-width="3.6"/><line x1="1017.70" y1="1.6700000000000728" x2="1017.70" y2="14.87" stroke="#000" stroke-width="3.6"/><line x1="1048.50" y1="659.07" x2="1048.50" y2="645.87" stroke="#000" stroke-width="3.6"/><line x1="1048.50" y1="1.6700000000000728" x2="1048.50" y2="14.87" stroke="#000" stroke-width="3.6"/><line x1="1079.30" y1="659.07" x2="1079.30" y2="635.57" stroke="#000" stroke-width="4.6"/><line x1="1079.30" y1="1.6700000000000728" x2="1079.30" y2="25.17" stroke="#000" stroke-width="4.6"/><line x1="1110.10" y1="659.07" x2="1110.10" y2="645.87" stroke="#000" stroke-width="3.6"/><line x1="1110.10" y1="1.6700000000000728" x2="1110.10" y2="14.87" stroke="#000" stroke-width="3.6"/><line x1="1140.90" y1="659.07" x2="1140.90" y2="645.87" stroke="#000" stroke-width="3.6"/><line x1="1140.90" y1="1.6700000000000728" x2="1140.90" y2="14.87" stroke="#000" stroke-width="3.6"/><line x1="1171.70" y1="659.07" x2="1171.70" y2="645.87" stroke="#000" stroke-width="3.6"/><line x1="1171.70" y1="1.6700000000000728" x2="1171.70" y2="14.87" stroke="#000" stroke-width="3.6"/><line x1="1202.50" y1="659.07" x2="1202.50" y2="645.87" stroke="#000" stroke-width="3.6"/><line x1="1202.50" y1="1.6700000000000728" x2="1202.50" y2="14.87" stroke="#000" stroke-width="3.6"/><line x1="1233.30" y1="659.07" x2="1233.30" y2="635.57" stroke="#000" stroke-width="4.6"/><line x1="1233.30" y1="1.6700000000000728" x2="1233.30" y2="25.17" stroke="#000" stroke-width="4.6"/><line x1="1264.10" y1="659.07" x2="1264.10" y2="645.87" stroke="#000" stroke-width="3.6"/><line x1="1264.10" y1="1.6700000000000728" x2="1264.10" y2="14.87" stroke="#000" stroke-width="3.6"/><line x1="1294.90" y1="659.07" x2="1294.90" y2="645.87" stroke="#000" stroke-width="3.6"/><line x1="1294.90" y1="1.6700000000000728" x2="1294.90" y2="14.87" stroke="#000" stroke-width="3.6"/><line x1="1325.70" y1="659.07" x2="1325.70" y2="645.87" stroke="#000" stroke-width="3.6"/><line x1="1325.70" y1="1.6700000000000728" x2="1325.70" y2="14.87" stroke="#000" stroke-width="3.6"/><line x1="155.3" y1="659.07" x2="168.50" y2="659.07" stroke="#000" stroke-width="3.6"/><line x1="1325.6999999999998" y1="659.07" x2="1312.50" y2="659.07" stroke="#000" stroke-width="3.6"/><line x1="155.3" y1="626.20" x2="178.80" y2="626.20" stroke="#000" stroke-width="4.6"/><line x1="1325.6999999999998" y1="626.20" x2="1302.20" y2="626.20" stroke="#000" stroke-width="4.6"/><line x1="155.3" y1="593.33" x2="168.50" y2="593.33" stroke="#000" stroke-width="3.6"/><line x1="1325.6999999999998" y1="593.33" x2="1312.50" y2="593.33" stroke="#000" stroke-width="3.6"/><line x1="155.3" y1="560.46" x2="168.50" y2="560.46" stroke="#000" stroke-width="3.6"/><line x1="1325.6999999999998" y1="560.46" x2="1312.50" y2="560.46" stroke="#000" stroke-width="3.6"/><line x1="155.3" y1="527.59" x2="168.50" y2="527.59" stroke="#000" stroke-width="3.6"/><line x1="1325.6999999999998" y1="527.59" x2="1312.50" y2="527.59" stroke="#000" stroke-width="3.6"/><line x1="155.3" y1="494.72" x2="168.50" y2="494.72" stroke="#000" stroke-width="3.6"/><line x1="1325.6999999999998" y1="494.72" x2="1312.50" y2="494.72" stroke="#000" stroke-width="3.6"/><line x1="155.3" y1="461.85" x2="178.80" y2="461.85" stroke="#000" stroke-width="4.6"/><line x1="1325.6999999999998" y1="461.85" x2="1302.20" y2="461.85" stroke="#000" stroke-width="4.6"/><line x1="155.3" y1="428.98" x2="168.50" y2="428.98" stroke="#000" stroke-width="3.6"/><line x1="1325.6999999999998" y1="428.98" x2="1312.50" y2="428.98" stroke="#000" stroke-width="3.6"/><line x1="155.3" y1="396.11" x2="168.50" y2="396.11" stroke="#000" stroke-width="3.6"/><line x1="1325.6999999999998" y1="396.11" x2="1312.50" y2="396.11" stroke="#000" stroke-width="3.6"/><line x1="155.3" y1="363.24" x2="168.50" y2="363.24" stroke="#000" stroke-width="3.6"/><line x1="1325.6999999999998" y1="363.24" x2="1312.50" y2="363.24" stroke="#000" stroke-width="3.6"/><line x1="155.3" y1="330.37" x2="168.50" y2="330.37" stroke="#000" stroke-width="3.6"/><line x1="1325.6999999999998" y1="330.37" x2="1312.50" y2="330.37" stroke="#000" stroke-width="3.6"/><line x1="155.3" y1="297.50" x2="178.80" y2="297.50" stroke="#000" stroke-width="4.6"/><line x1="1325.6999999999998" y1="297.50" x2="1302.20" y2="297.50" stroke="#000" stroke-width="4.6"/><line x1="155.3" y1="264.63" x2="168.50" y2="264.63" stroke="#000" stroke-width="3.6"/><line x1="1325.6999999999998" y1="264.63" x2="1312.50" y2="264.63" stroke="#000" stroke-width="3.6"/><line x1="155.3" y1="231.76" x2="168.50" y2="231.76" stroke="#000" stroke-width="3.6"/><line x1="1325.6999999999998" y1="231.76" x2="1312.50" y2="231.76" stroke="#000" stroke-width="3.6"/><line x1="155.3" y1="198.89" x2="168.50" y2="198.89" stroke="#000" stroke-width="3.6"/><line x1="1325.6999999999998" y1="198.89" x2="1312.50" y2="198.89" stroke="#000" stroke-width="3.6"/><line x1="155.3" y1="166.02" x2="168.50" y2="166.02" stroke="#000" stroke-width="3.6"/><line x1="1325.6999999999998" y1="166.02" x2="1312.50" y2="166.02" stroke="#000" stroke-width="3.6"/><line x1="155.3" y1="133.15" x2="178.80" y2="133.15" stroke="#000" stroke-width="4.6"/><line x1="1325.6999999999998" y1="133.15" x2="1302.20" y2="133.15" stroke="#000" stroke-width="4.6"/><line x1="155.3" y1="100.28" x2="168.50" y2="100.28" stroke="#000" stroke-width="3.6"/><line x1="1325.6999999999998" y1="100.28" x2="1312.50" y2="100.28" stroke="#000" stroke-width="3.6"/><line x1="155.3" y1="67.41" x2="168.50" y2="67.41" stroke="#000" stroke-width="3.6"/><line x1="1325.6999999999998" y1="67.41" x2="1312.50" y2="67.41" stroke="#000" stroke-width="3.6"/><line x1="155.3" y1="34.54" x2="168.50" y2="34.54" stroke="#000" stroke-width="3.6"/><line x1="1325.6999999999998" y1="34.54" x2="1312.50" y2="34.54" stroke="#000" stroke-width="3.6"/><line x1="155.3" y1="1.67" x2="168.50" y2="1.67" stroke="#000" stroke-width="3.6"/><line x1="1325.6999999999998" y1="1.67" x2="1312.50" y2="1.67" stroke="#000" stroke-width="3.6"/>
<rect x="155.3" y="1.6700000000000728" width="1170.40" height="657.40" fill="none" stroke="#000" stroke-width="4.2"/>
<line x1="155.30" y1="1316.4699999999998" x2="155.30" y2="1292.97" stroke="#000" stroke-width="4.6"/><line x1="155.30" y1="659.07" x2="155.30" y2="682.57" stroke="#000" stroke-width="4.6"/><line x1="186.10" y1="1316.4699999999998" x2="186.10" y2="1303.27" stroke="#000" stroke-width="3.6"/><line x1="186.10" y1="659.07" x2="186.10" y2="672.27" stroke="#000" stroke-width="3.6"/><line x1="216.90" y1="1316.4699999999998" x2="216.90" y2="1303.27" stroke="#000" stroke-width="3.6"/><line x1="216.90" y1="659.07" x2="216.90" y2="672.27" stroke="#000" stroke-width="3.6"/><line x1="247.70" y1="1316.4699999999998" x2="247.70" y2="1303.27" stroke="#000" stroke-width="3.6"/><line x1="247.70" y1="659.07" x2="247.70" y2="672.27" stroke="#000" stroke-width="3.6"/><line x1="278.50" y1="1316.4699999999998" x2="278.50" y2="1303.27" stroke="#000" stroke-width="3.6"/><line x1="278.50" y1="659.07" x2="278.50" y2="672.27" stroke="#000" stroke-width="3.6"/><line x1="309.30" y1="1316.4699999999998" x2="309.30" y2="1292.97" stroke="#000" stroke-width="4.6"/><line x1="309.30" y1="659.07" x2="309.30" y2="682.57" stroke="#000" stroke-width="4.6"/><line x1="340.10" y1="1316.4699999999998" x2="340.10" y2="1303.27" stroke="#000" stroke-width="3.6"/><line x1="340.10" y1="659.07" x2="340.10" y2="672.27" stroke="#000" stroke-width="3.6"/><line x1="370.90" y1="1316.4699999999998" x2="370.90" y2="1303.27" stroke="#000" stroke-width="3.6"/><line x1="370.90" y1="659.07" x2="370.90" y2="672.27" stroke="#000" stroke-width="3.6"/><line x1="401.70" y1="1316.4699999999998" x2="401.70" y2="1303.27" stroke="#000" stroke-width="3.6"/><line x1="401.70" y1="659.07" x2="401.70" y2="672.27" stroke="#000" stroke-width="3.6"/><line x1="432.50" y1="1316.4699999999998" x2="432.50" y2="1303.27" stroke="#000" stroke-width="3.6"/><line x1="432.50" y1="659.07" x2="432.50" y2="672.27" stroke="#000" stroke-width="3.6"/><line x1="463.30" y1="1316.4699999999998" x2="463.30" y2="1292.97" stroke="#000" stroke-width="4.6"/><line x1="463.30" y1="659.07" x2="463.30" y2="682.57" stroke="#000" stroke-width="4.6"/><line x1="494.10" y1="1316.4699999999998" x2="494.10" y2="1303.27" stroke="#000" stroke-width="3.6"/><line x1="494.10" y1="659.07" x2="494.10" y2="672.27" stroke="#000" stroke-width="3.6"/><line x1="524.90" y1="1316.4699999999998" x2="524.90" y2="1303.27" stroke="#000" stroke-width="3.6"/><line x1="524.90" y1="659.07" x2="524.90" y2="672.27" stroke="#000" stroke-width="3.6"/><line x1="555.70" y1="1316.4699999999998" x2="555.70" y2="1303.27" stroke="#000" stroke-width="3.6"/><line x1="555.70" y1="659.07" x2="555.70" y2="672.27" stroke="#000" stroke-width="3.6"/><line x1="586.50" y1="1316.4699999999998" x2="586.50" y2="1303.27" stroke="#000" stroke-width="3.6"/><line x1="586.50" y1="659.07" x2="586.50" y2="672.27" stroke="#000" stroke-width="3.6"/><line x1="617.30" y1="1316.4699999999998" x2="617.30" y2="1292.97" stroke="#000" stroke-width="4.6"/><line x1="617.30" y1="659.07" x2="617.30" y2="682.57" stroke="#000" stroke-width="4.6"/><line x1="648.10" y1="1316.4699999999998" x2="648.10" y2="1303.27" stroke="#000" stroke-width="3.6"/><line x1="648.10" y1="659.07" x2="648.10" y2="672.27" stroke="#000" stroke-width="3.6"/><line x1="678.90" y1="1316.4699999999998" x2="678.90" y2="1303.27" stroke="#000" stroke-width="3.6"/><line x1="678.90" y1="659.07" x2="678.90" y2="672.27" stroke="#000" stroke-width="3.6"/><line x1="709.70" y1="1316.4699999999998" x2="709.70" y2="1303.27" stroke="#000" stroke-width="3.6"/><line x1="709.70" y1="659.07" x2="709.70" y2="672.27" stroke="#000" stroke-width="3.6"/><line x1="740.50" y1="1316.4699999999998" x2="740.50" y2="1303.27" stroke="#000" stroke-width="3.6"/><line x1="740.50" y1="659.07" x2="740.50" y2="672.27" stroke="#000" stroke-width="3.6"/><line x1="771.30" y1="1316.4699999999998" x2="771.30" y2="1292.97" stroke="#000" stroke-width="4.6"/><line x1="771.30" y1="659.07" x2="771.30" y2="682.57" stroke="#000" stroke-width="4.6"/><line x1="802.10" y1="1316.4699999999998" x2="802.10" y2="1303.27" stroke="#000" stroke-width="3.6"/><line x1="802.10" y1="659.07" x2="802.10" y2="672.27" stroke="#000" stroke-width="3.6"/><line x1="832.90" y1="1316.4699999999998" x2="832.90" y2="1303.27" stroke="#000" stroke-width="3.6"/><line x1="832.90" y1="659.07" x2="832.90" y2="672.27" stroke="#000" stroke-width="3.6"/><line x1="863.70" y1="1316.4699999999998" x2="863.70" y2="1303.27" stroke="#000" stroke-width="3.6"/><line x1="863.70" y1="659.07" x2="863.70" y2="672.27" stroke="#000" stroke-width="3.6"/><line x1="894.50" y1="1316.4699999999998" x2="894.50" y2="1303.27" stroke="#000" stroke-width="3.6"/><line x1="894.50" y1="659.07" x2="894.50" y2="672.27" stroke="#000" stroke-width="3.6"/><line x1="925.30" y1="1316.4699999999998" x2="925.30" y2="1292.97" stroke="#000" stroke-width="4.6"/><line x1="925.30" y1="659.07" x2="925.30" y2="682.57" stroke="#000" stroke-width="4.6"/><line x1="956.10" y1="1316.4699999999998" x2="956.10" y2="1303.27" stroke="#000" stroke-width="3.6"/><line x1="956.10" y1="659.07" x2="956.10" y2="672.27" stroke="#000" stroke-width="3.6"/><line x1="986.90" y1="1316.4699999999998" x2="986.90" y2="1303.27" stroke="#000" stroke-width="3.6"/><line x1="986.90" y1="659.07" x2="986.90" y2="672.27" stroke="#000" stroke-width="3.6"/><line x1="1017.70" y1="1316.4699999999998" x2="1017.70" y2="1303.27" stroke="#000" stroke-width="3.6"/><line x1="1017.70" y1="659.07" x2="1017.70" y2="672.27" stroke="#000" stroke-width="3.6"/><line x1="1048.50" y1="1316.4699999999998" x2="1048.50" y2="1303.27" stroke="#000" stroke-width="3.6"/><line x1="1048.50" y1="659.07" x2="1048.50" y2="672.27" stroke="#000" stroke-width="3.6"/><line x1="1079.30" y1="1316.4699999999998" x2="1079.30" y2="1292.97" stroke="#000" stroke-width="4.6"/><line x1="1079.30" y1="659.07" x2="1079.30" y2="682.57" stroke="#000" stroke-width="4.6"/><line x1="1110.10" y1="1316.4699999999998" x2="1110.10" y2="1303.27" stroke="#000" stroke-width="3.6"/><line x1="1110.10" y1="659.07" x2="1110.10" y2="672.27" stroke="#000" stroke-width="3.6"/><line x1="1140.90" y1="1316.4699999999998" x2="1140.90" y2="1303.27" stroke="#000" stroke-width="3.6"/><line x1="1140.90" y1="659.07" x2="1140.90" y2="672.27" stroke="#000" stroke-width="3.6"/><line x1="1171.70" y1="1316.4699999999998" x2="1171.70" y2="1303.27" stroke="#000" stroke-width="3.6"/><line x1="1171.70" y1="659.07" x2="1171.70" y2="672.27" stroke="#000" stroke-width="3.6"/><line x1="1202.50" y1="1316.4699999999998" x2="1202.50" y2="1303.27" stroke="#000" stroke-width="3.6"/><line x1="1202.50" y1="659.07" x2="1202.50" y2="672.27" stroke="#000" stroke-width="3.6"/><line x1="1233.30" y1="1316.4699999999998" x2="1233.30" y2="1292.97" stroke="#000" stroke-width="4.6"/><line x1="1233.30" y1="659.07" x2="1233.30" y2="682.57" stroke="#000" stroke-width="4.6"/><line x1="1264.10" y1="1316.4699999999998" x2="1264.10" y2="1303.27" stroke="#000" stroke-width="3.6"/><line x1="1264.10" y1="659.07" x2="1264.10" y2="672.27" stroke="#000" stroke-width="3.6"/><line x1="1294.90" y1="1316.4699999999998" x2="1294.90" y2="1303.27" stroke="#000" stroke-width="3.6"/><line x1="1294.90" y1="659.07" x2="1294.90" y2="672.27" stroke="#000" stroke-width="3.6"/><line x1="1325.70" y1="1316.4699999999998" x2="1325.70" y2="1303.27" stroke="#000" stroke-width="3.6"/><line x1="1325.70" y1="659.07" x2="1325.70" y2="672.27" stroke="#000" stroke-width="3.6"/><line x1="155.3" y1="1316.47" x2="168.50" y2="1316.47" stroke="#000" stroke-width="3.6"/><line x1="1325.6999999999998" y1="1316.47" x2="1312.50" y2="1316.47" stroke="#000" stroke-width="3.6"/><line x1="155.3" y1="1283.60" x2="178.80" y2="1283.60" stroke="#000" stroke-width="4.6"/><line x1="1325.6999999999998" y1="1283.60" x2="1302.20" y2="1283.60" stroke="#000" stroke-width="4.6"/><line x1="155.3" y1="1250.73" x2="168.50" y2="1250.73" stroke="#000" stroke-width="3.6"/><line x1="1325.6999999999998" y1="1250.73" x2="1312.50" y2="1250.73" stroke="#000" stroke-width="3.6"/><line x1="155.3" y1="1217.86" x2="168.50" y2="1217.86" stroke="#000" stroke-width="3.6"/><line x1="1325.6999999999998" y1="1217.86" x2="1312.50" y2="1217.86" stroke="#000" stroke-width="3.6"/><line x1="155.3" y1="1184.99" x2="168.50" y2="1184.99" stroke="#000" stroke-width="3.6"/><line x1="1325.6999999999998" y1="1184.99" x2="1312.50" y2="1184.99" stroke="#000" stroke-width="3.6"/><line x1="155.3" y1="1152.12" x2="168.50" y2="1152.12" stroke="#000" stroke-width="3.6"/><line x1="1325.6999999999998" y1="1152.12" x2="1312.50" y2="1152.12" stroke="#000" stroke-width="3.6"/><line x1="155.3" y1="1119.25" x2="178.80" y2="1119.25" stroke="#000" stroke-width="4.6"/><line x1="1325.6999999999998" y1="1119.25" x2="1302.20" y2="1119.25" stroke="#000" stroke-width="4.6"/><line x1="155.3" y1="1086.38" x2="168.50" y2="1086.38" stroke="#000" stroke-width="3.6"/><line x1="1325.6999999999998" y1="1086.38" x2="1312.50" y2="1086.38" stroke="#000" stroke-width="3.6"/><line x1="155.3" y1="1053.51" x2="168.50" y2="1053.51" stroke="#000" stroke-width="3.6"/><line x1="1325.6999999999998" y1="1053.51" x2="1312.50" y2="1053.51" stroke="#000" stroke-width="3.6"/><line x1="155.3" y1="1020.64" x2="168.50" y2="1020.64" stroke="#000" stroke-width="3.6"/><line x1="1325.6999999999998" y1="1020.64" x2="1312.50" y2="1020.64" stroke="#000" stroke-width="3.6"/><line x1="155.3" y1="987.77" x2="168.50" y2="987.77" stroke="#000" stroke-width="3.6"/><line x1="1325.6999999999998" y1="987.77" x2="1312.50" y2="987.77" stroke="#000" stroke-width="3.6"/><line x1="155.3" y1="954.90" x2="178.80" y2="954.90" stroke="#000" stroke-width="4.6"/><line x1="1325.6999999999998" y1="954.90" x2="1302.20" y2="954.90" stroke="#000" stroke-width="4.6"/><line x1="155.3" y1="922.03" x2="168.50" y2="922.03" stroke="#000" stroke-width="3.6"/><line x1="1325.6999999999998" y1="922.03" x2="1312.50" y2="922.03" stroke="#000" stroke-width="3.6"/><line x1="155.3" y1="889.16" x2="168.50" y2="889.16" stroke="#000" stroke-width="3.6"/><line x1="1325.6999999999998" y1="889.16" x2="1312.50" y2="889.16" stroke="#000" stroke-width="3.6"/><line x1="155.3" y1="856.29" x2="168.50" y2="856.29" stroke="#000" stroke-width="3.6"/><line x1="1325.6999999999998" y1="856.29" x2="1312.50" y2="856.29" stroke="#000" stroke-width="3.6"/><line x1="155.3" y1="823.42" x2="168.50" y2="823.42" stroke="#000" stroke-width="3.6"/><line x1="1325.6999999999998" y1="823.42" x2="1312.50" y2="823.42" stroke="#000" stroke-width="3.6"/><line x1="155.3" y1="790.55" x2="178.80" y2="790.55" stroke="#000" stroke-width="4.6"/><line x1="1325.6999999999998" y1="790.55" x2="1302.20" y2="790.55" stroke="#000" stroke-width="4.6"/><line x1="155.3" y1="757.68" x2="168.50" y2="757.68" stroke="#000" stroke-width="3.6"/><line x1="1325.6999999999998" y1="757.68" x2="1312.50" y2="757.68" stroke="#000" stroke-width="3.6"/><line x1="155.3" y1="724.81" x2="168.50" y2="724.81" stroke="#000" stroke-width="3.6"/><line x1="1325.6999999999998" y1="724.81" x2="1312.50" y2="724.81" stroke="#000" stroke-width="3.6"/><line x1="155.3" y1="691.94" x2="168.50" y2="691.94" stroke="#000" stroke-width="3.6"/><line x1="1325.6999999999998" y1="691.94" x2="1312.50" y2="691.94" stroke="#000" stroke-width="3.6"/><line x1="155.3" y1="659.07" x2="168.50" y2="659.07" stroke="#000" stroke-width="3.6"/><line x1="1325.6999999999998" y1="659.07" x2="1312.50" y2="659.07" stroke="#000" stroke-width="3.6"/>
<rect x="155.3" y="659.07" width="1170.40" height="657.40" fill="none" stroke="#000" stroke-width="4.2"/>
<text x="140.5" y="644.80" text-anchor="end" font-family="Liberation Serif" font-size="54.5" stroke="#000" stroke-width="0.6" textLength="72" lengthAdjust="spacingAndGlyphs">0.0</text>
<text x="140.5" y="480.45" text-anchor="end" font-family="Liberation Serif" font-size="54.5" stroke="#000" stroke-width="0.6" textLength="72" lengthAdjust="spacingAndGlyphs">0.5</text>
<text x="140.5" y="316.10" text-anchor="end" font-family="Liberation Serif" font-size="54.5" stroke="#000" stroke-width="0.6" textLength="72" lengthAdjust="spacingAndGlyphs">1.0</text>
<text x="140.5" y="151.75" text-anchor="end" font-family="Liberation Serif" font-size="54.5" stroke="#000" stroke-width="0.6" textLength="72" lengthAdjust="spacingAndGlyphs">1.5</text>
<text x="140.5" y="1302.20" text-anchor="end" font-family="Liberation Serif" font-size="54.5" stroke="#000" stroke-width="0.6" textLength="72" lengthAdjust="spacingAndGlyphs">0.0</text>
<text x="140.5" y="1137.85" text-anchor="end" font-family="Liberation Serif" font-size="54.5" stroke="#000" stroke-width="0.6" textLength="72" lengthAdjust="spacingAndGlyphs">0.5</text>
<text x="140.5" y="973.50" text-anchor="end" font-family="Liberation Serif" font-size="54.5" stroke="#000" stroke-width="0.6" textLength="72" lengthAdjust="spacingAndGlyphs">1.0</text>
<text x="140.5" y="809.15" text-anchor="end" font-family="Liberation Serif" font-size="54.5" stroke="#000" stroke-width="0.6" textLength="72" lengthAdjust="spacingAndGlyphs">1.5</text>
<text x="155.30" y="1364.5" text-anchor="middle" font-family="Liberation Sans" font-size="52" stroke="#000" stroke-width="0.8">1.0</text>
<text x="309.30" y="1364.5" text-anchor="middle" font-family="Liberation Sans" font-size="52" stroke="#000" stroke-width="0.8">1.5</text>
<text x="463.30" y="1364.5" text-anchor="middle" font-family="Liberation Sans" font-size="52" stroke="#000" stroke-width="0.8">2.0</text>
<text x="617.30" y="1364.5" text-anchor="middle" font-family="Liberation Sans" font-size="52" stroke="#000" stroke-width="0.8">2.5</text>
<text x="771.30" y="1364.5" text-anchor="middle" font-family="Liberation Sans" font-size="52" stroke="#000" stroke-width="0.8">3.0</text>
<text x="925.30" y="1364.5" text-anchor="middle" font-family="Liberation Sans" font-size="52" stroke="#000" stroke-width="0.8">3.5</text>
<text x="1079.30" y="1364.5" text-anchor="middle" font-family="Liberation Sans" font-size="52" stroke="#000" stroke-width="0.8">4.0</text>
<text x="1233.30" y="1364.5" text-anchor="middle" font-family="Liberation Sans" font-size="52" stroke="#000" stroke-width="0.8">4.5</text>
<g transform="translate(546.5,1426.3)"><text x="-2" y="0" font-family="Liberation Sans" font-size="51" stroke="#000" stroke-width="0.7" font-style="italic">W</text><text x="47" y="0" font-family="Liberation Sans" font-size="51" stroke="#000" stroke-width="0.7" font-style="normal">2</text><text x="91" y="0" font-family="Liberation Sans" font-size="51" stroke="#000" stroke-width="0.7" textLength="36" lengthAdjust="spacingAndGlyphs">−</text><text x="142" y="0" font-family="Liberation Sans" font-size="51" stroke="#000" stroke-width="0.7" font-style="italic">W</text><text x="193" y="0" font-family="Liberation Sans" font-size="51" stroke="#000" stroke-width="0.7" font-style="normal">3</text><text x="240" y="0" font-family="Liberation Serif" font-size="57" stroke="#000" stroke-width="0.9" textLength="150" lengthAdjust="spacingAndGlyphs">[mag]</text></g>
<g transform="translate(39,852.8) rotate(-90)"><text x="-2" y="0" font-family="Liberation Sans" font-size="51" stroke="#000" stroke-width="0.7" font-style="italic">W</text><text x="47" y="0" font-family="Liberation Sans" font-size="51" stroke="#000" stroke-width="0.7" font-style="normal">1</text><text x="91" y="0" font-family="Liberation Sans" font-size="51" stroke="#000" stroke-width="0.7" textLength="36" lengthAdjust="spacingAndGlyphs">−</text><text x="142" y="0" font-family="Liberation Sans" font-size="51" stroke="#000" stroke-width="0.7" font-style="italic">W</text><text x="193" y="0" font-family="Liberation Sans" font-size="51" stroke="#000" stroke-width="0.7" font-style="normal">2</text><text x="240" y="0" font-family="Liberation Serif" font-size="57" stroke="#000" stroke-width="0.9" textLength="150" lengthAdjust="spacingAndGlyphs">[mag]</text></g>
<g stroke="#000" stroke-width="0"><circle cx="203.8" cy="58.75" r="8.5" fill="#5a86aa" stroke="#0f3f6a" stroke-width="2.8"/><text x="224.5" y="66.2" font-family="Liberation Sans" stroke="#000" stroke-width="0.45" font-size="30">BL</text><text x="271" y="66.2" font-family="Liberation Sans" stroke="#000" stroke-width="0.45" font-size="30" font-style="italic">L</text><text x="289.5" y="70.8" font-family="Liberation Sans" stroke="#000" stroke-width="0.45" font-size="21">X</text><text x="311" y="66.2" font-family="Liberation Sans" stroke="#000" stroke-width="0.45" font-size="31" textLength="25" lengthAdjust="spacingAndGlyphs">≥</text><text x="343.5" y="66.2" font-family="Liberation Sans" stroke="#000" stroke-width="0.45" font-size="30" textLength="39" lengthAdjust="spacingAndGlyphs">10</text><text x="382.5" y="54.5" font-family="Liberation Sans" stroke="#000" stroke-width="0.45" font-size="20" textLength="26" lengthAdjust="spacingAndGlyphs">44</text><text x="419" y="66.2" font-family="Liberation Sans" stroke="#000" stroke-width="0.45" font-size="30" textLength="50" lengthAdjust="spacingAndGlyphs">erg</text><text x="478.5" y="66.2" font-family="Liberation Sans" stroke="#000" stroke-width="0.45" font-size="30" textLength="17" lengthAdjust="spacingAndGlyphs">s</text><text x="494" y="54.5" font-family="Liberation Sans" stroke="#000" stroke-width="0.45" font-size="20" textLength="32" lengthAdjust="spacingAndGlyphs">−1</text><circle cx="203.8" cy="110.9" r="8.5" fill="#98b4dc" stroke="#7b9fd0" stroke-width="2.8"/><text x="224.5" y="118.0" font-family="Liberation Sans" stroke="#000" stroke-width="0.45" font-size="30">BL</text><text x="271" y="118.0" font-family="Liberation Sans" stroke="#000" stroke-width="0.45" font-size="30" font-style="italic">L</text><text x="289.5" y="122.6" font-family="Liberation Sans" stroke="#000" stroke-width="0.45" font-size="21">X</text><text x="311" y="118.0" font-family="Liberation Sans" stroke="#000" stroke-width="0.45" font-size="31" textLength="25" lengthAdjust="spacingAndGlyphs">&lt;</text><text x="343.5" y="118.0" font-family="Liberation Sans" stroke="#000" stroke-width="0.45" font-size="30" textLength="39" lengthAdjust="spacingAndGlyphs">10</text><text x="382.5" y="106.3" font-family="Liberation Sans" stroke="#000" stroke-width="0.45" font-size="20" textLength="26" lengthAdjust="spacingAndGlyphs">44</text><text x="419" y="118.0" font-family="Liberation Sans" stroke="#000" stroke-width="0.45" font-size="30" textLength="50" lengthAdjust="spacingAndGlyphs">erg</text><text x="478.5" y="118.0" font-family="Liberation Sans" stroke="#000" stroke-width="0.45" font-size="30" textLength="17" lengthAdjust="spacingAndGlyphs">s</text><text x="494" y="106.3" font-family="Liberation Sans" stroke="#000" stroke-width="0.45" font-size="20" textLength="32" lengthAdjust="spacingAndGlyphs">−1</text><path d="M203.80,143.70 L207.31,151.86 L216.16,152.68 L209.49,158.55 L211.44,167.22 L203.80,162.68 L196.16,167.22 L198.11,158.55 L191.44,152.68 L200.29,151.86Z" fill="#f04585" stroke="#de0f58" stroke-width="1.9" stroke-linejoin="round"/><text x="226.6" y="166.7" font-family="Liberation Sans" stroke="#000" stroke-width="0.45" font-size="30" textLength="131" lengthAdjust="spacingAndGlyphs">Nu-rQSO</text><circle cx="203.8" cy="697.5" r="8.5" fill="#4fb0ac" stroke="#138080" stroke-width="2.8"/><text x="224.5" y="705.0" font-family="Liberation Sans" stroke="#000" stroke-width="0.45" font-size="30">NL</text><text x="271" y="705.0" font-family="Liberation Sans" stroke="#000" stroke-width="0.45" font-size="30" font-style="italic">L</text><text x="289.5" y="709.6" font-family="Liberation Sans" stroke="#000" stroke-width="0.45" font-size="21">X</text><text x="311" y="705.0" font-family="Liberation Sans" stroke="#000" stroke-width="0.45" font-size="31" textLength="25" lengthAdjust="spacingAndGlyphs">≥</text><text x="343.5" y="705.0" font-family="Liberation Sans" stroke="#000" stroke-width="0.45" font-size="30" textLength="39" lengthAdjust="spacingAndGlyphs">10</text><text x="382.5" y="693.3" font-family="Liberation Sans" stroke="#000" stroke-width="0.45" font-size="20" textLength="26" lengthAdjust="spacingAndGlyphs">44</text><text x="419" y="705.0" font-family="Liberation Sans" stroke="#000" stroke-width="0.45" font-size="30" textLength="50" lengthAdjust="spacingAndGlyphs">erg</text><text x="478.5" y="705.0" font-family="Liberation Sans" stroke="#000" stroke-width="0.45" font-size="30" textLength="17" lengthAdjust="spacingAndGlyphs">s</text><text x="494" y="693.3" font-family="Liberation Sans" stroke="#000" stroke-width="0.45" font-size="20" textLength="32" lengthAdjust="spacingAndGlyphs">−1</text><circle cx="203.8" cy="750.2" r="8.5" fill="#94dad0" stroke="#22aaaa" stroke-width="2.8"/><text x="224.5" y="757.5" font-family="Liberation Sans" stroke="#000" stroke-width="0.45" font-size="30">NL</text><text x="271" y="757.5" font-family="Liberation Sans" stroke="#000" stroke-width="0.45" font-size="30" font-style="italic">L</text><text x="289.5" y="762.1" font-family="Liberation Sans" stroke="#000" stroke-width="0.45" font-size="21">X</text><text x="311" y="757.5" font-family="Liberation Sans" stroke="#000" stroke-width="0.45" font-size="31" textLength="25" lengthAdjust="spacingAndGlyphs">&lt;</text><text x="343.5" y="757.5" font-family="Liberation Sans" stroke="#000" stroke-width="0.45" font-size="30" textLength="39" lengthAdjust="spacingAndGlyphs">10</text><text x="382.5" y="745.8" font-family="Liberation Sans" stroke="#000" stroke-width="0.45" font-size="20" textLength="26" lengthAdjust="spacingAndGlyphs">44</text><text x="419" y="757.5" font-family="Liberation Sans" stroke="#000" stroke-width="0.45" font-size="30" textLength="50" lengthAdjust="spacingAndGlyphs">erg</text><text x="478.5" y="757.5" font-family="Liberation Sans" stroke="#000" stroke-width="0.45" font-size="30" textLength="17" lengthAdjust="spacingAndGlyphs">s</text><text x="494" y="745.8" font-family="Liberation Sans" stroke="#000" stroke-width="0.45" font-size="20" textLength="32" lengthAdjust="spacingAndGlyphs">−1</text><path d="M203.80,781.40 L207.69,790.44 L217.50,791.35 L210.10,797.85 L212.26,807.45 L203.80,802.42 L195.34,807.45 L197.50,797.85 L190.10,791.35 L199.91,790.44Z" fill="#f5c0c4" stroke="#f5959b" stroke-width="2.2" stroke-linejoin="round"/><text x="226.6" y="805.5" font-family="Liberation Sans" stroke="#000" stroke-width="0.45" font-size="30" textLength="203" lengthAdjust="spacingAndGlyphs">AGN/Gxy Pair</text><path d="M209.53,829.92 L214.48,834.87 L208.75,840.60 L214.48,846.33 L209.53,851.28 L203.80,845.55 L198.07,851.28 L193.12,846.33 L198.85,840.60 L193.12,834.87 L198.07,829.92 L203.80,835.65Z" fill="#fff" stroke="#000" stroke-width="3.0" stroke-linejoin="round"/><text x="226.6" y="851" font-family="Liberation Sans" stroke="#000" stroke-width="0.45" font-size="30" textLength="58" lengthAdjust="spacingAndGlyphs">Gxy</text></g>
</svg></body></html>
